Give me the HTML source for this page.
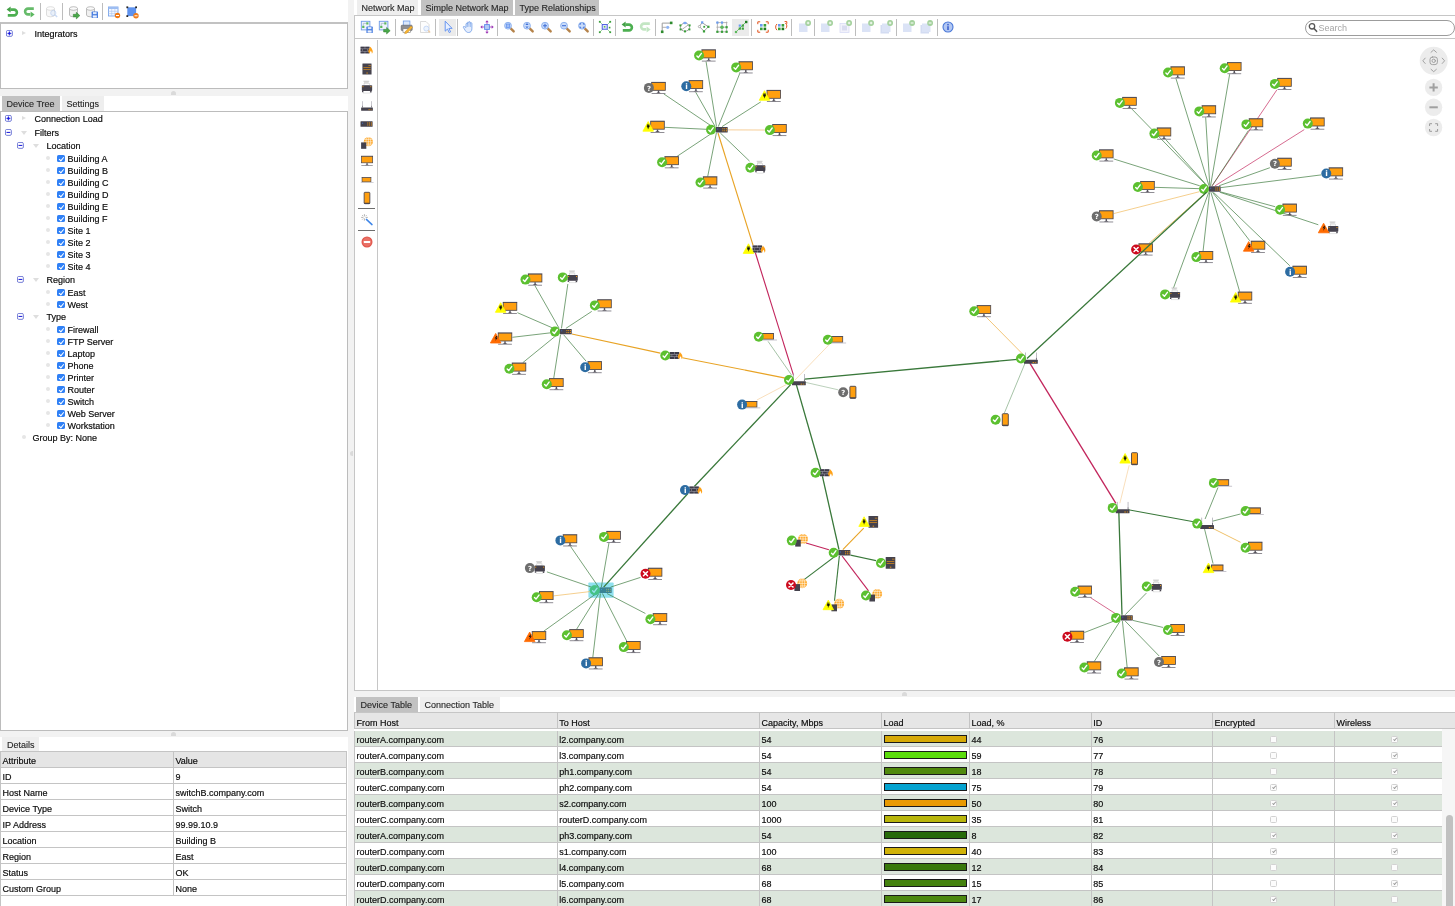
<!DOCTYPE html>
<html lang="en"><head><meta charset="utf-8"><title>Network Map</title>
<style>
html,body{margin:0;padding:0}
body{width:1455px;height:906px;position:relative;overflow:hidden;background:#fff;
 font-family:"Liberation Sans",sans-serif;font-size:9px;color:#0c0c0c;-webkit-text-stroke:0.18px #0c0c0c}
#w{position:absolute;left:0;top:0;width:1455px;height:906px;overflow:hidden;will-change:transform}
.a{position:absolute}
.t{position:absolute;white-space:nowrap;height:12px;line-height:12px}
.box{position:absolute;border:1px solid #bcbcbc;background:#fff;box-sizing:border-box}
.tab{position:absolute;box-sizing:border-box;height:15px;line-height:16px;padding-left:4.6px;white-space:nowrap;overflow:hidden;color:#262626;-webkit-text-stroke:0.12px #262626}
.tab.d{background:#c2c2c2}
.tab.l{background:#eeeeee}
.split{position:absolute;background:#f2f2f2}
.knob{position:absolute;width:5px;height:4px;border-radius:3px 3px 0 0;background:#dadada}
.sep{position:absolute;width:1px;background:#bdbdbd}
.ic{position:absolute;width:16px;height:16px;overflow:visible}
.hl{position:absolute;background:#ebebeb}
.tri{position:absolute;width:0;height:0}
.tri.r{border-left:4.2px solid #dedede;border-top:2.8px solid transparent;border-bottom:2.8px solid transparent}
.tri.dn{border-top:4px solid #dedede;border-left:3px solid transparent;border-right:3px solid transparent}
.dot{position:absolute;width:3.4px;height:3.4px;border-radius:2px;background:#e6e6e6}
.cb{position:absolute;width:7.6px;height:7.2px;border-radius:1.6px;background:#2f80f6;box-sizing:border-box}
.cb:after{content:"";position:absolute;left:2.6px;top:0.7px;width:1.9px;height:3.8px;border:solid #fff;border-width:0 1.1px 1.1px 0;transform:rotate(40deg)}
.hd{position:absolute;background:#e6e6e6;box-sizing:border-box;border-top:1px solid #c6c6c6;border-bottom:1px solid #c4c4c4}
.ln{position:absolute;background:#c4c4c4}
.row{position:absolute;left:354px;width:1087.5px}
.row.g{background:#dce6dc}
.bar{position:absolute;height:6px;border:1px solid #1a1a1a;box-sizing:content-box}
.ck{position:absolute;width:7px;height:7px;border:1px solid #d2d2d2;border-radius:1.5px;background:#fcfcfc;box-sizing:border-box}
.ck.on:after{content:"";position:absolute;left:1.8px;top:0px;width:1.4px;height:3.4px;border:solid #9a9a9a;border-width:0 0.9px 0.9px 0;transform:rotate(40deg)}
</style></head>
<body><div id="w">
<svg class="ic" style="left:2.7px;top:3.5px" viewBox="0 0 16 16"><path d="M7.4 5.6H11a2.9 2.9 0 0 1 0 5.8H4.8" fill="none" stroke="#4caf50" stroke-width="2.6"/><path d="M3.6 5.6l4-3v6z" fill="#43a047"/></svg>
<svg class="ic" style="left:21.3px;top:3.5px" viewBox="0 0 16 16"><path d="M12.8 4.6H7a2.9 2.9 0 0 0 0 5.8H9.4" fill="none" stroke="#66bb6a" stroke-width="2.6"/><path d="M13.6 10.4l-4-3v6z" fill="#5cb860"/></svg>
<svg class="ic" style="left:44px;top:3.5px" viewBox="0 0 16 16"><g opacity="0.5"><path d="M2.5 4.5v6.5a4 1.8 0 0 0 8 0v-6.5" fill="#f1f1f1" stroke="#a3a3a3" stroke-width="0.7"/><ellipse cx="6.5" cy="4.5" rx="4" ry="1.8" fill="#fafafa" stroke="#a3a3a3" stroke-width="0.7"/></g><g opacity="0.45"><circle cx="9.3" cy="9" r="2.6" fill="#d7e6fb" stroke="#8aaee8" stroke-width="0.9"/><path d="M11.2 11l2 2" stroke="#8aaee8" stroke-width="1.4"/></g></svg>
<svg class="ic" style="left:66.5px;top:3.5px" viewBox="0 0 16 16"><g opacity="1"><path d="M2.5 4.5v6.5a4 1.8 0 0 0 8 0v-6.5" fill="#f1f1f1" stroke="#a3a3a3" stroke-width="0.7"/><ellipse cx="6.5" cy="4.5" rx="4" ry="1.8" fill="#fafafa" stroke="#a3a3a3" stroke-width="0.7"/></g><path d="M6.3 10.3h3v-2l3.6 3.3l-3.6 3.3v-2h-3z" fill="#4aa84a" stroke="#2e7d2e" stroke-width="0.5"/></svg>
<svg class="ic" style="left:84px;top:3.5px" viewBox="0 0 16 16"><g opacity="1"><path d="M2.5 4.5v6.5a4 1.8 0 0 0 8 0v-6.5" fill="#f1f1f1" stroke="#a3a3a3" stroke-width="0.7"/><ellipse cx="6.5" cy="4.5" rx="4" ry="1.8" fill="#fafafa" stroke="#a3a3a3" stroke-width="0.7"/></g><rect x="7.6" y="7.6" width="6.4" height="6.4" rx="0.6" fill="#4a7fe0"/><rect x="9.0" y="8.1" width="3.6" height="2" fill="#dfe9fb"/><rect x="8.799999999999999" y="11.399999999999999" width="4" height="2.2" fill="#eef3fd"/></svg>
<svg class="ic" style="left:106px;top:3.5px" viewBox="0 0 16 16"><rect x="2.5" y="3" width="9.5" height="9" fill="#f4f8ff" stroke="#7aa4ea" stroke-width="0.9"/><rect x="2.5" y="3" width="9.5" height="2" fill="#9dbdf2"/><path d="M2.5 7.3h9.5M2.5 9.6h9.5M5.7 5v7M8.9 5v7" stroke="#a9c4f0" stroke-width="0.6"/><circle cx="11.5" cy="11.5" r="2.7" fill="#f07a18"/><rect x="10.0" y="11.0" width="3" height="1" fill="#fff"/></svg>
<svg class="ic" style="left:124px;top:3.5px" viewBox="0 0 16 16"><rect x="3.3" y="3.3" width="8.8" height="8.8" fill="#5e92ee"/><rect x="2.4" y="2.4" width="1.8" height="1.8" fill="#222"/><rect x="11.2" y="2.4" width="1.8" height="1.8" fill="#222"/><rect x="2.4" y="11.2" width="1.8" height="1.8" fill="#222"/><circle cx="12" cy="11.8" r="2.7" fill="#f07a18"/><rect x="10.5" y="11.3" width="3" height="1" fill="#fff"/></svg>
<div class="sep" style="left:40px;top:3px;height:17px"></div>
<div class="sep" style="left:62px;top:3px;height:17px"></div>
<div class="sep" style="left:102px;top:3px;height:17px"></div>
<div class="box" style="left:0;top:22px;width:347.5px;height:67px;border-top-width:2px;border-top-color:#c2c2c2"></div>
<svg class="a" style="left:6.1px;top:30.1px" width="6.8" height="6.8" viewBox="0 0 6.8 6.8"><rect x="0.45" y="0.45" width="5.9" height="5.9" rx="1.3" fill="#fff" stroke="#6670d2" stroke-width="0.9"/><path d="M3.4 1.3l0.6 1.5l1.5 0.6l-1.5 0.6l-0.6 1.5l-0.6-1.5l-1.5-0.6l1.5-0.6z" fill="#1414e0" stroke="#1414e0" stroke-width="0.3"/></svg><div class="tri r" style="left:22.3px;top:30.7px"></div>
<div class="t" style="left:34.5px;top:28px">Integrators</div>
<div class="split" style="left:0;top:89px;width:348px;height:7px"></div><div class="knob" style="left:171px;top:90.5px"></div>
<div class="tab d" style="left:2px;top:96px;width:58px">Device Tree</div>
<div class="tab l" style="left:62px;top:96px;width:42px">Settings</div>
<div class="box" style="left:0;top:111px;width:347.5px;height:620px"></div>
<svg class="a" style="left:4.9px;top:115.2px" width="6.8" height="6.8" viewBox="0 0 6.8 6.8"><rect x="0.45" y="0.45" width="5.9" height="5.9" rx="1.3" fill="#fff" stroke="#6670d2" stroke-width="0.9"/><path d="M3.4 1.3l0.6 1.5l1.5 0.6l-1.5 0.6l-0.6 1.5l-0.6-1.5l-1.5-0.6l1.5-0.6z" fill="#1414e0" stroke="#1414e0" stroke-width="0.3"/></svg><div class="tri r" style="left:22.3px;top:115.8px"></div><div class="t" style="left:34.6px;top:113px">Connection Load</div>
<svg class="a" style="left:4.9px;top:129.2px" width="6.8" height="6.8" viewBox="0 0 6.8 6.8"><rect x="0.45" y="0.45" width="5.9" height="5.9" rx="1.3" fill="#fff" stroke="#6670d2" stroke-width="0.9"/><rect x="1.5" y="2.9" width="3.8" height="1" fill="#1414d8"/></svg><div class="tri dn" style="left:20.9px;top:130.8px"></div><div class="t" style="left:34.6px;top:127px">Filters</div>
<svg class="a" style="left:17.1px;top:142.2px" width="6.8" height="6.8" viewBox="0 0 6.8 6.8"><rect x="0.45" y="0.45" width="5.9" height="5.9" rx="1.3" fill="#fff" stroke="#6670d2" stroke-width="0.9"/><rect x="1.5" y="2.9" width="3.8" height="1" fill="#1414d8"/></svg><div class="tri dn" style="left:33.1px;top:143.8px"></div><div class="t" style="left:46.6px;top:140px">Location</div>
<div class="dot" style="left:46.4px;top:156.4px"></div><div class="cb" style="left:57px;top:154.9px"></div><div class="t" style="left:67.4px;top:153px">Building A</div>
<div class="dot" style="left:46.4px;top:168.4px"></div><div class="cb" style="left:57px;top:166.9px"></div><div class="t" style="left:67.4px;top:165px">Building B</div>
<div class="dot" style="left:46.4px;top:180.4px"></div><div class="cb" style="left:57px;top:178.9px"></div><div class="t" style="left:67.4px;top:177px">Building C</div>
<div class="dot" style="left:46.4px;top:192.4px"></div><div class="cb" style="left:57px;top:190.9px"></div><div class="t" style="left:67.4px;top:189px">Building D</div>
<div class="dot" style="left:46.4px;top:204.4px"></div><div class="cb" style="left:57px;top:202.9px"></div><div class="t" style="left:67.4px;top:201px">Building E</div>
<div class="dot" style="left:46.4px;top:216.4px"></div><div class="cb" style="left:57px;top:214.9px"></div><div class="t" style="left:67.4px;top:213px">Building F</div>
<div class="dot" style="left:46.4px;top:228.4px"></div><div class="cb" style="left:57px;top:226.9px"></div><div class="t" style="left:67.4px;top:225px">Site 1</div>
<div class="dot" style="left:46.4px;top:240.4px"></div><div class="cb" style="left:57px;top:238.9px"></div><div class="t" style="left:67.4px;top:237px">Site 2</div>
<div class="dot" style="left:46.4px;top:252.4px"></div><div class="cb" style="left:57px;top:250.9px"></div><div class="t" style="left:67.4px;top:249px">Site 3</div>
<div class="dot" style="left:46.4px;top:264.4px"></div><div class="cb" style="left:57px;top:262.9px"></div><div class="t" style="left:67.4px;top:261px">Site 4</div>
<svg class="a" style="left:17.1px;top:276.2px" width="6.8" height="6.8" viewBox="0 0 6.8 6.8"><rect x="0.45" y="0.45" width="5.9" height="5.9" rx="1.3" fill="#fff" stroke="#6670d2" stroke-width="0.9"/><rect x="1.5" y="2.9" width="3.8" height="1" fill="#1414d8"/></svg><div class="tri dn" style="left:33.1px;top:277.8px"></div><div class="t" style="left:46.6px;top:274px">Region</div>
<div class="dot" style="left:46.4px;top:290.4px"></div><div class="cb" style="left:57px;top:288.9px"></div><div class="t" style="left:67.4px;top:287px">East</div>
<div class="dot" style="left:46.4px;top:302.4px"></div><div class="cb" style="left:57px;top:300.9px"></div><div class="t" style="left:67.4px;top:299px">West</div>
<svg class="a" style="left:17.1px;top:313.2px" width="6.8" height="6.8" viewBox="0 0 6.8 6.8"><rect x="0.45" y="0.45" width="5.9" height="5.9" rx="1.3" fill="#fff" stroke="#6670d2" stroke-width="0.9"/><rect x="1.5" y="2.9" width="3.8" height="1" fill="#1414d8"/></svg><div class="tri dn" style="left:33.1px;top:314.8px"></div><div class="t" style="left:46.6px;top:311px">Type</div>
<div class="dot" style="left:46.4px;top:327.4px"></div><div class="cb" style="left:57px;top:325.9px"></div><div class="t" style="left:67.4px;top:324px">Firewall</div>
<div class="dot" style="left:46.4px;top:339.4px"></div><div class="cb" style="left:57px;top:337.9px"></div><div class="t" style="left:67.4px;top:336px">FTP Server</div>
<div class="dot" style="left:46.4px;top:351.4px"></div><div class="cb" style="left:57px;top:349.9px"></div><div class="t" style="left:67.4px;top:348px">Laptop</div>
<div class="dot" style="left:46.4px;top:363.4px"></div><div class="cb" style="left:57px;top:361.9px"></div><div class="t" style="left:67.4px;top:360px">Phone</div>
<div class="dot" style="left:46.4px;top:375.4px"></div><div class="cb" style="left:57px;top:373.9px"></div><div class="t" style="left:67.4px;top:372px">Printer</div>
<div class="dot" style="left:46.4px;top:387.4px"></div><div class="cb" style="left:57px;top:385.9px"></div><div class="t" style="left:67.4px;top:384px">Router</div>
<div class="dot" style="left:46.4px;top:399.4px"></div><div class="cb" style="left:57px;top:397.9px"></div><div class="t" style="left:67.4px;top:396px">Switch</div>
<div class="dot" style="left:46.4px;top:411.4px"></div><div class="cb" style="left:57px;top:409.9px"></div><div class="t" style="left:67.4px;top:408px">Web Server</div>
<div class="dot" style="left:46.4px;top:423.4px"></div><div class="cb" style="left:57px;top:421.9px"></div><div class="t" style="left:67.4px;top:420px">Workstation</div>
<div class="dot" style="left:22.4px;top:435.4px"></div><div class="t" style="left:32.5px;top:432px">Group By: None</div>
<div class="split" style="left:0;top:731px;width:348px;height:6px"></div><div class="knob" style="left:171px;top:732px"></div>
<div class="tab l" style="left:2px;top:737px;width:37px;padding-left:5px">Details</div>
<div class="a" style="left:0;top:751.5px;width:347px;height:15.5px;background:#e5e5e5"></div>
<div class="ln" style="left:0;top:750.8px;width:347px;height:1px"></div>
<div class="ln" style="left:0;top:766.8px;width:347px;height:1px"></div>
<div class="ln" style="left:0;top:782.8px;width:347px;height:1px"></div>
<div class="ln" style="left:0;top:798.8px;width:347px;height:1px"></div>
<div class="ln" style="left:0;top:814.8px;width:347px;height:1px"></div>
<div class="ln" style="left:0;top:830.8px;width:347px;height:1px"></div>
<div class="ln" style="left:0;top:846.8px;width:347px;height:1px"></div>
<div class="ln" style="left:0;top:862.8px;width:347px;height:1px"></div>
<div class="ln" style="left:0;top:878.8px;width:347px;height:1px"></div>
<div class="ln" style="left:0;top:894.8px;width:347px;height:1px"></div>
<div class="ln" style="left:0;top:750.8px;width:1px;height:156px"></div>
<div class="ln" style="left:172.8px;top:750.8px;width:1px;height:145px"></div>
<div class="ln" style="left:346.2px;top:750.8px;width:1px;height:156px"></div>
<div class="t" style="left:2.6px;top:755px">Attribute</div><div class="t" style="left:175.4px;top:755px">Value</div>
<div class="t" style="left:2.6px;top:771px">ID</div><div class="t" style="left:175.4px;top:771px">9</div>
<div class="t" style="left:2.6px;top:787px">Host Name</div><div class="t" style="left:175.4px;top:787px">switchB.company.com</div>
<div class="t" style="left:2.6px;top:803px">Device Type</div><div class="t" style="left:175.4px;top:803px">Switch</div>
<div class="t" style="left:2.6px;top:819px">IP Address</div><div class="t" style="left:175.4px;top:819px">99.99.10.9</div>
<div class="t" style="left:2.6px;top:835px">Location</div><div class="t" style="left:175.4px;top:835px">Building B</div>
<div class="t" style="left:2.6px;top:851px">Region</div><div class="t" style="left:175.4px;top:851px">East</div>
<div class="t" style="left:2.6px;top:867px">Status</div><div class="t" style="left:175.4px;top:867px">OK</div>
<div class="t" style="left:2.6px;top:883px">Custom Group</div><div class="t" style="left:175.4px;top:883px">None</div>
<div class="split" style="left:348px;top:0;width:6px;height:906px"></div>
<div class="a" style="left:349.5px;top:451px;width:3px;height:5px;border-radius:3px 0 0 3px;background:#dadada"></div>
<div class="tab l" style="left:357px;top:0;width:60.5px">Network Map</div>
<div class="tab d" style="left:421px;top:0;width:91.5px">Simple Network Map</div>
<div class="tab d" style="left:515px;top:0;width:84px">Type Relationships</div>
<div class="a" style="left:354px;top:15px;width:1101px;height:1px;background:#c6c6c6"></div>
<div class="a" style="left:354px;top:38px;width:1101px;height:1px;background:#c6c6c6"></div>
<div class="a" style="left:354px;top:15px;width:1px;height:676px;background:#c6c6c6"></div>
<div class="a" style="left:377px;top:40px;width:1px;height:650px;background:#c6c6c6"></div>
<div class="a" style="left:354px;top:690px;width:1101px;height:1px;background:#c6c6c6"></div>
<div class="hl" style="left:439px;top:19px;width:17px;height:17px"></div>
<div class="hl" style="left:732px;top:19px;width:17px;height:17px"></div>
<svg class="ic" style="left:359px;top:18.8px" viewBox="0 0 16 16"><rect x="2.3" y="2.3" width="8.6" height="8.6" fill="#eef3fd" stroke="#6f9ce6" stroke-width="0.9"/><rect x="3.2" y="6.8" width="2.2" height="2.2" fill="#5cb85c"/><rect x="7.2" y="3.3" width="2.2" height="2.2" fill="#5cb85c"/><path d="M4.3 6.8v-2.4h2.9" stroke="#9ab" stroke-width="0.6" fill="none"/><rect x="7.4" y="7.6" width="6.4" height="6.4" rx="0.6" fill="#4a7fe0"/><rect x="8.8" y="8.1" width="3.6" height="2" fill="#dfe9fb"/><rect x="8.6" y="11.399999999999999" width="4" height="2.2" fill="#eef3fd"/></svg>
<svg class="ic" style="left:377px;top:18.8px" viewBox="0 0 16 16"><rect x="2.3" y="2.3" width="8.6" height="8.6" fill="#eef3fd" stroke="#6f9ce6" stroke-width="0.9"/><rect x="3.2" y="6.8" width="2.2" height="2.2" fill="#5cb85c"/><rect x="7.2" y="3.3" width="2.2" height="2.2" fill="#5cb85c"/><path d="M4.3 6.8v-2.4h2.9" stroke="#9ab" stroke-width="0.6" fill="none"/><path d="M6.6 10.4h3v-2l3.6 3.3l-3.6 3.3v-2h-3z" fill="#4aa84a" stroke="#2e7d2e" stroke-width="0.5"/></svg>
<div class="sep" style="left:395.0px;top:19px;height:17px"></div>
<svg class="ic" style="left:399px;top:18.8px" viewBox="0 0 16 16"><rect x="4.3" y="2" width="6.6" height="5" fill="#dbe8fd" stroke="#6f9ce6" stroke-width="0.8"/><rect x="2.2" y="6.2" width="11" height="5.4" rx="0.8" fill="#8e8e92" stroke="#5e5e62" stroke-width="0.6"/><rect x="4" y="9.8" width="7.4" height="3.6" fill="#fff" stroke="#777" stroke-width="0.6"/><path d="M6.2 12.6l5.8-5.6l1.6 1.6l-5.8 5.6l-2.2 0.6z" fill="#f5b335" stroke="#c98a1a" stroke-width="0.4"/></svg>
<svg class="ic" style="left:417px;top:18.8px" viewBox="0 0 16 16"><g opacity="0.45"><path d="M3.5 2.5h5.5l3 3v8h-8.5z" fill="#fafafa" stroke="#9a9a9a" stroke-width="0.8"/><circle cx="9.3" cy="9.6" r="2.5" fill="#d7e6fb" stroke="#7aa4ea" stroke-width="0.9"/><path d="M11.2 11.6l1.9 1.9" stroke="#d08a3a" stroke-width="1.4"/></g></svg>
<div class="sep" style="left:435.0px;top:19px;height:17px"></div>
<svg class="ic" style="left:439.5px;top:18.8px" viewBox="0 0 16 16"><path d="M5.2 2.2v10l2.3-2.2l1.7 3.6l1.4-0.7l-1.7-3.5h3.2z" fill="#e8f0ff" stroke="#5b8def" stroke-width="0.9" stroke-linejoin="round"/></svg>
<div class="sep" style="left:457.0px;top:19px;height:17px"></div>
<svg class="ic" style="left:461px;top:18.8px" viewBox="0 0 16 16"><path d="M5 8.5v-3.4c0-1 1.4-1 1.4 0v-1.4c0-1 1.5-1 1.5 0v-0.3c0-1 1.5-1 1.5 0.1v0.8c0-0.9 1.5-0.9 1.5 0.2v5.2c0 2.3-1.2 3.8-3.4 3.8c-1.8 0-2.6-0.9-3.5-2.4l-1.6-2.6c-0.5-0.9 0.7-1.6 1.4-0.7z" fill="#e4edfd" stroke="#6f9ce6" stroke-width="0.8" stroke-linejoin="round"/><path d="M6.4 5v3M7.9 3.8v4M9.4 4.2v3.8" stroke="#6f9ce6" stroke-width="0.6"/></svg>
<svg class="ic" style="left:478.75px;top:18.8px" viewBox="0 0 16 16"><rect x="5.6" y="5.6" width="4.8" height="4.8" fill="#b3cbf6" stroke="#5b8def" stroke-width="0.9"/><g fill="#9c34b4"><path d="M8 1.3l1.7 2h-3.4zM8 14.7l1.7-2h-3.4zM1.3 8l2-1.7v3.4zM14.7 8l-2-1.7v3.4z"/><rect x="7.6" y="3" width="0.8" height="2.4"/><rect x="7.6" y="10.6" width="0.8" height="2.4"/><rect x="3" y="7.6" width="2.4" height="0.8"/><rect x="10.6" y="7.6" width="2.4" height="0.8"/></g></svg>
<div class="sep" style="left:497.0px;top:19px;height:17px"></div>
<svg class="ic" style="left:500.75px;top:18.8px" viewBox="0 0 16 16"><path d="M9.4 9.2l3.3 3.2" stroke="#b5834a" stroke-width="2.4" stroke-linecap="round"/><circle cx="7" cy="6.7" r="3.4" fill="#c9dcfa" stroke="#8fb2ee" stroke-width="1"/><g transform="translate(1 0.7)"><rect x="4.3" y="4.3" width="3.4" height="3.4" fill="#9fbdf3" stroke="#5b8def" stroke-width="0.7"/></g></svg>
<svg class="ic" style="left:520px;top:18.8px" viewBox="0 0 16 16"><path d="M9.4 9.2l3.3 3.2" stroke="#b5834a" stroke-width="2.4" stroke-linecap="round"/><circle cx="7" cy="6.7" r="3.4" fill="#c9dcfa" stroke="#8fb2ee" stroke-width="1"/><g transform="translate(1 0.7)"><path d="M6 3.4l1.6 1.8h-3.2zM6 8.6l1.6-1.8h-3.2z" fill="#3f6fd8"/></g></svg>
<svg class="ic" style="left:538px;top:18.8px" viewBox="0 0 16 16"><path d="M9.4 9.2l3.3 3.2" stroke="#b5834a" stroke-width="2.4" stroke-linecap="round"/><circle cx="7" cy="6.7" r="3.4" fill="#c9dcfa" stroke="#8fb2ee" stroke-width="1"/><g transform="translate(1 0.7)"><path d="M4 6h4M6 4v4" stroke="#3f6fd8" stroke-width="1.1"/></g></svg>
<svg class="ic" style="left:556.5px;top:18.8px" viewBox="0 0 16 16"><path d="M9.4 9.2l3.3 3.2" stroke="#b5834a" stroke-width="2.4" stroke-linecap="round"/><circle cx="7" cy="6.7" r="3.4" fill="#c9dcfa" stroke="#8fb2ee" stroke-width="1"/><g transform="translate(1 0.7)"><path d="M4 6h4" stroke="#3f6fd8" stroke-width="1.1"/></g></svg>
<svg class="ic" style="left:575px;top:18.8px" viewBox="0 0 16 16"><path d="M9.4 9.2l3.3 3.2" stroke="#b5834a" stroke-width="2.4" stroke-linecap="round"/><circle cx="7" cy="6.7" r="3.4" fill="#c9dcfa" stroke="#8fb2ee" stroke-width="1"/><g transform="translate(1 0.7)"><path d="M4 5.2v-1.2h1.2M6.8 4h1.2v1.2M8 6.8v1.2h-1.2M5.2 8h-1.2v-1.2" stroke="#3f6fd8" stroke-width="0.9" fill="none"/></g></svg>
<div class="sep" style="left:592.5px;top:19px;height:17px"></div>
<svg class="ic" style="left:597px;top:18.8px" viewBox="0 0 16 16"><path d="M2.8 2.8l10.4 10.4M13.2 2.8l-10.4 10.4" stroke="#5cb85c" stroke-width="0.6"/><rect x="5.2" y="5.6" width="5" height="4.6" fill="#e6ecff" stroke="#3b4fe0" stroke-width="0.9"/><rect x="1.9" y="1.9" width="1.8" height="1.8" fill="#3aa03a"/><rect x="12.299999999999999" y="1.9" width="1.8" height="1.8" fill="#3aa03a"/><rect x="1.9" y="12.299999999999999" width="1.8" height="1.8" fill="#3aa03a"/><rect x="12.299999999999999" y="12.299999999999999" width="1.8" height="1.8" fill="#3aa03a"/><rect x="11.799999999999999" y="7.8" width="1.6" height="1.6" fill="#3aa03a"/><rect x="6.8" y="7.0" width="1.6" height="1.6" fill="#5cb85c"/></svg>
<div class="sep" style="left:615.0px;top:19px;height:17px"></div>
<svg class="ic" style="left:618px;top:18.8px" viewBox="0 0 16 16"><path d="M7.4 5.6H11a2.9 2.9 0 0 1 0 5.8H4.8" fill="none" stroke="#4caf50" stroke-width="2.6"/><path d="M3.6 5.6l4-3v6z" fill="#43a047"/></svg>
<svg class="ic" style="left:637px;top:18.8px" viewBox="0 0 16 16"><path d="M12.8 4.6H7a2.9 2.9 0 0 0 0 5.8H9.4" fill="none" stroke="#c3e6c3" stroke-width="2.6"/><path d="M13.6 10.4l-4-3v6z" fill="#c3e6c3"/></svg>
<div class="sep" style="left:655.0px;top:19px;height:17px"></div>
<svg class="ic" style="left:658px;top:18.8px" viewBox="0 0 16 16"><path d="M4.2 12.5v-8.4h9" fill="none" stroke="#9c9c9c" stroke-width="1"/><rect x="11.899999999999999" y="2.5999999999999996" width="2.6" height="2.6" fill="#2e8b2e"/><rect x="2.9000000000000004" y="11.5" width="2.6" height="2.6" fill="#2e8b2e"/><path d="M4.2 8.3h4" stroke="#9c9c9c" stroke-width="0.8"/><circle cx="9.7" cy="8.3" r="1.6" fill="#8fb4f4"/></svg>
<svg class="ic" style="left:677px;top:18.8px" viewBox="0 0 16 16"><ellipse cx="8" cy="8.2" rx="4.6" ry="4" fill="none" stroke="#8a8a8a" stroke-width="0.8"/><path d="M5 10.5l6-4.4" stroke="#8a8a8a" stroke-width="0.7"/><rect x="2.4" y="5.4" width="2" height="2" fill="#3aa03a"/><rect x="11.6" y="5.4" width="2" height="2" fill="#3aa03a"/><rect x="2.6" y="9.4" width="2" height="2" fill="#3aa03a"/><rect x="11.4" y="9.4" width="2" height="2" fill="#3aa03a"/><rect x="7.0" y="11.4" width="2" height="2" fill="#3aa03a"/><ellipse cx="8" cy="4" rx="1.8" ry="1.2" fill="#7aa7f2"/></svg>
<svg class="ic" style="left:696px;top:18.8px" viewBox="0 0 16 16"><path d="M6 3.6l-2.6 4l4.6 4.6l4.4-4.4z" fill="none" stroke="#8a8a8a" stroke-width="0.8"/><rect x="5.1" y="2.3" width="2.2" height="2.2" fill="#6a9cf0"/><rect x="11.3" y="6.699999999999999" width="2.2" height="2.2" fill="#3aa03a"/><rect x="6.9" y="11.3" width="2.2" height="2.2" fill="#3aa03a"/><circle cx="3.4" cy="7.6" r="1.1" fill="#fff" stroke="#8a8a8a" stroke-width="0.6"/><rect x="7.299999999999999" y="6.8999999999999995" width="1.8" height="1.8" fill="#3aa03a"/></svg>
<svg class="ic" style="left:714px;top:18.8px" viewBox="0 0 16 16"><path d="M2.4 3.6h11M2.4 8.2h11M2.4 12.8h11M3.4 2.6v11M8 2.6v11M12.6 2.6v11" stroke="#a5a5a5" stroke-width="0.8"/><rect x="2.3" y="2.5" width="2.2" height="2.2" fill="#6a9cf0"/><rect x="6.9" y="2.5" width="2.2" height="2.2" fill="#6a9cf0"/><rect x="2.3" y="11.700000000000001" width="2.2" height="2.2" fill="#3aa03a"/><rect x="6.9" y="11.700000000000001" width="2.2" height="2.2" fill="#3aa03a"/><rect x="11.5" y="11.700000000000001" width="2.2" height="2.2" fill="#3aa03a"/><rect x="11.5" y="7.1" width="2.2" height="2.2" fill="#3aa03a"/><circle cx="8" cy="8.2" r="1.8" fill="#5cb85c"/></svg>
<svg class="ic" style="left:732.5px;top:18.8px" viewBox="0 0 16 16"><path d="M3 13l10-10" stroke="#5cb85c" stroke-width="0.8"/><rect x="12.0" y="1.8" width="2.4" height="2.4" fill="#1f7a1f"/><rect x="1.9" y="11.9" width="2.2" height="2.2" fill="#5cb85c"/><rect x="5.699999999999999" y="5.5" width="2.2" height="2.2" fill="#6a9cf0"/><rect x="8.700000000000001" y="5.5" width="2.2" height="2.2" fill="#3aa03a"/><rect x="5.699999999999999" y="8.5" width="2.2" height="2.2" fill="#3aa03a"/><rect x="8.700000000000001" y="8.5" width="2.2" height="2.2" fill="#3aa03a"/></svg>
<div class="sep" style="left:751.25px;top:19px;height:17px"></div>
<svg class="ic" style="left:754.5px;top:18.8px" viewBox="0 0 16 16"><path d="M2.8 5.2v-2.4h2.4M10.8 2.8h2.4v2.4M13.2 10.8v2.4h-2.4M5.2 13.2h-2.4v-2.4" fill="none" stroke="#e2521a" stroke-width="1"/><rect x="5.0" y="5.0" width="2.6" height="2.6" fill="#6a9cf0"/><rect x="8.6" y="5.0" width="2.6" height="2.6" fill="#3aa03a"/><rect x="5.0" y="8.6" width="2.6" height="2.6" fill="#3aa03a"/><rect x="8.6" y="8.6" width="2.6" height="2.6" fill="#1f7a1f"/></svg>
<svg class="ic" style="left:772.75px;top:18.8px" viewBox="0 0 16 16"><path d="M4 5c-1.8 1.4-1.8 4.8 0 6.2M12.4 4c1.8 1.3 1.8 4.2 0.4 5.6" fill="none" stroke="#e2521a" stroke-width="1"/><path d="M11.6 2.6h2.2v2.2" fill="none" stroke="#e2521a" stroke-width="1"/><rect x="5.0" y="5.0" width="2.6" height="2.6" fill="#6a9cf0"/><rect x="8.6" y="5.0" width="2.6" height="2.6" fill="#3aa03a"/><rect x="5.0" y="8.6" width="2.6" height="2.6" fill="#3aa03a"/><rect x="8.6" y="8.6" width="2.6" height="2.6" fill="#1f7a1f"/></svg>
<div class="sep" style="left:791.0px;top:19px;height:17px"></div>
<svg class="ic" style="left:795.75px;top:18.8px" viewBox="0 0 16 16"><rect x="3" y="4.5" width="8.5" height="8.5" fill="#dbe3f6"/><circle cx="12.1" cy="4" r="2.9" fill="#a4d19d"/><path d="M10.8 4h2.6M12.1 2.7v2.6" stroke="#fff" stroke-width="0.9"/></svg>
<div class="sep" style="left:814.0px;top:19px;height:17px"></div>
<svg class="ic" style="left:818px;top:18.8px" viewBox="0 0 16 16"><rect x="3" y="4.5" width="8.5" height="8.5" fill="#dbe3f6"/><circle cx="12.1" cy="4" r="2.9" fill="#a4d19d"/><path d="M10.8 4h2.6M12.1 2.7v2.6" stroke="#fff" stroke-width="0.9"/></svg>
<svg class="ic" style="left:837px;top:18.8px" viewBox="0 0 16 16"><rect x="3" y="4.5" width="9" height="9" fill="#f2f2fb" stroke="#d9dcf5" stroke-width="0.8"/><rect x="5" y="6.5" width="5" height="5" fill="#d9dcf0"/><circle cx="12.1" cy="4" r="2.9" fill="#a4d19d"/><path d="M10.8 4h2.6M12.1 2.7v2.6" stroke="#fff" stroke-width="0.9"/></svg>
<div class="sep" style="left:855.0px;top:19px;height:17px"></div>
<svg class="ic" style="left:859px;top:18.8px" viewBox="0 0 16 16"><rect x="3" y="4.5" width="8.5" height="8.5" fill="#dbe3f6"/><circle cx="12.1" cy="4" r="2.9" fill="#a4d19d"/><path d="M10.8 4h2.6M12.1 2.7v2.6" stroke="#fff" stroke-width="0.9"/></svg>
<svg class="ic" style="left:877.5px;top:18.8px" viewBox="0 0 16 16"><rect x="2.5" y="6" width="8.5" height="8.5" fill="#d3dcf2"/><rect x="4" y="4.5" width="8.5" height="8.5" fill="#dbe3f6"/><circle cx="12.1" cy="4" r="2.9" fill="#a4d19d"/><path d="M10.8 4h2.6M12.1 2.7v2.6" stroke="#fff" stroke-width="0.9"/></svg>
<div class="sep" style="left:896.0px;top:19px;height:17px"></div>
<svg class="ic" style="left:899.5px;top:18.8px" viewBox="0 0 16 16"><rect x="3" y="4.5" width="8.5" height="8.5" fill="#dbe3f6"/><circle cx="12.1" cy="4" r="2.9" fill="#a4d19d"/><path d="M10.7 4h2.8" stroke="#fff" stroke-width="1"/></svg>
<svg class="ic" style="left:918px;top:18.8px" viewBox="0 0 16 16"><rect x="2.5" y="6" width="8.5" height="8.5" fill="#d3dcf2"/><rect x="4" y="4.5" width="8.5" height="8.5" fill="#dbe3f6"/><circle cx="12.1" cy="4" r="2.9" fill="#a4d19d"/><path d="M10.7 4h2.8" stroke="#fff" stroke-width="1"/></svg>
<div class="sep" style="left:937.0px;top:19px;height:17px"></div>
<svg class="ic" style="left:939.5px;top:18.8px" viewBox="0 0 16 16"><circle cx="8" cy="8" r="5" fill="#b3c8f3" stroke="#4a78d8" stroke-width="1.1"/><rect x="7.2" y="7.2" width="1.6" height="3.8" fill="#3f63cf"/><rect x="7.2" y="4.9" width="1.6" height="1.5" fill="#3f63cf"/></svg>
<div class="a" style="left:1305px;top:19.5px;width:149.5px;height:16px;border:1px solid #9c9c9c;border-radius:8px;box-sizing:border-box;background:#fff"></div>
<svg class="a" style="left:1308px;top:22px" width="10" height="11" viewBox="0 0 10 11"><circle cx="4" cy="4.3" r="2.7" fill="none" stroke="#555" stroke-width="1.3"/><path d="M6 6.5l2.6 2.8" stroke="#555" stroke-width="1.6" stroke-linecap="round"/></svg>
<div class="t" style="left:1318.6px;top:22px;color:#a6a6a6;-webkit-text-stroke:0">Search</div>
<svg class="ic" style="left:359.1px;top:42.2px" viewBox="0 0 16 16"><g transform="translate(8 8) scale(0.95) translate(-11.149999999999999 0.050000000000000044)"><rect x="4.4" y="-3.5" width="9.4" height="7" fill="#a9a7b3"/><rect x="4.4" y="-3.5" width="4.4" height="2" fill="#3e3c49"/><rect x="9.25" y="-3.5" width="4.55" height="2" fill="#3e3c49"/><rect x="4.4" y="-1" width="2" height="2" fill="#3e3c49"/><rect x="6.85" y="-1" width="4.4" height="2" fill="#3e3c49"/><rect x="11.7" y="-1" width="2.1" height="2" fill="#3e3c49"/><rect x="4.4" y="1.5" width="4.4" height="2" fill="#3e3c49"/><rect x="9.25" y="1.5" width="4.2" height="2" fill="#3e3c49"/><path d="M14.6 -3.5c0.7 1 2.8 2.9 2.6 5.2c-0.1 1-0.7 1.8-1 2c0.2-1.2-0.4-2.3-1.2-3c-0.1 1-1 1.8-1 3c-0.8-0.5-1.5-1.4-1.5-2.6c0-1.9 1.9-2.9 2.1-4.6z" fill="#ffa218"/></g></svg>
<svg class="ic" style="left:359.1px;top:60.8px" viewBox="0 0 16 16"><g transform="translate(8 8) scale(0.95) translate(-9.5 0.10000000000000009)"><rect x="4.7" y="-6" width="9.6" height="11.8" rx="0.4" fill="#45424d"/><rect x="11" y="-4.2" width="2.6" height="0.6" fill="#ff9f0f"/><rect x="5.7" y="-1.9" width="7.6" height="0.6" fill="#ff9f0f"/><rect x="5.7" y="0.3" width="7.6" height="0.6" fill="#ff9f0f"/><rect x="8.9" y="3.7" width="1.4" height="0.9" fill="#ff9f0f"/></g></svg>
<svg class="ic" style="left:359.1px;top:79px" viewBox="0 0 16 16"><g transform="translate(8 8) scale(1.0) translate(-9.85 0.6499999999999999)"><path d="M6.3 -6.4h5.8M6.9 -5.4h4.6" stroke="#aaa" stroke-width="0.6"/><rect x="6.9" y="-4.3" width="5.2" height="2" fill="#fff" stroke="#c4c4c4" stroke-width="0.5"/><rect x="6.4" y="2.8" width="6.6" height="2.6" fill="#fff" stroke="#c9c9c9" stroke-width="0.5"/><rect x="4.7" y="-2.5" width="10.3" height="5.8" rx="0.7" fill="#45424d"/><rect x="4.9" y="3.2" width="1.2" height="1.4" fill="#45424d"/><rect x="13" y="3.2" width="1.4" height="1.6" fill="#45424d"/><rect x="5.3" y="-1.4" width="1" height="0.9" fill="#ff9f0f"/><rect x="13.2" y="-1.4" width="1" height="0.9" fill="#ff9f0f"/></g></svg>
<svg class="ic" style="left:359.1px;top:98.2px" viewBox="0 0 16 16"><g transform="translate(8 8) scale(0.85) translate(-9.9 0.3500000000000001)"><rect x="3" y="1.3" width="13.8" height="4" rx="0.5" fill="#45424d"/><rect x="4.2" y="-6" width="0.7" height="5.6" fill="#a3a1ab"/><rect x="4.15" y="-0.6" width="0.8" height="2" fill="#5a5762"/><rect x="15" y="-6" width="0.7" height="5.6" fill="#a3a1ab"/><rect x="14.95" y="-0.6" width="0.8" height="2" fill="#5a5762"/><rect x="11.6" y="3.7" width="1.6" height="0.8" fill="#ff9f0f"/><rect x="14.2" y="3.7" width="1" height="0.8" fill="#ff9f0f"/></g></svg>
<svg class="ic" style="left:359.1px;top:116.1px" viewBox="0 0 16 16"><g transform="translate(8 8) scale(1.0) translate(-11.1 -0.0)"><rect x="4.6" y="-2.7" width="12.1" height="5.4" rx="0.5" fill="#45424d"/><rect x="11.4" y="-1.5" width="1" height="1" fill="#ff9f0f"/><rect x="11.4" y="0.5" width="1" height="1" fill="#ff9f0f"/><rect x="13.2" y="-1.5" width="1" height="1" fill="#ff9f0f"/><rect x="13.2" y="0.5" width="1" height="1" fill="#ff9f0f"/><rect x="15" y="-1.5" width="1" height="1" fill="#ff9f0f"/><rect x="15" y="0.5" width="1" height="1" fill="#ff9f0f"/><rect x="6.2" y="-1.3" width="1" height="1" fill="#3f6fd0"/></g></svg>
<svg class="ic" style="left:359.1px;top:134.8px" viewBox="0 0 16 16"><g transform="translate(8 8) scale(0.93) translate(-9.75 0.25)"><circle cx="11.2" cy="-1.6" r="4.9" fill="#ffa726"/><g stroke="#fff" stroke-width="0.55" fill="none"><path d="M6.4 -1.6h9.6M7.1 -4.1h8.2M7.1 0.9h8.2M11.2 -6.4v9.6"/><ellipse cx="11.2" cy="-1.6" rx="2.5" ry="4.8"/></g><rect x="3.4" y="-0.9" width="5.6" height="6.9" fill="#45424d"/></g></svg>
<svg class="ic" style="left:359.1px;top:153px" viewBox="0 0 16 16"><g transform="translate(8 8) scale(0.83) translate(-9.55 -0.20000000000000018)"><rect x="2.8" y="-5.5" width="13.6" height="7.9" fill="#ff9f0f" stroke="#45424d" stroke-width="0.8"/><rect x="2.4" y="-6" width="14.4" height="0.5" fill="#45424d"/><path d="M8.9 2.7h1.4v1.6l1.8 1h-5l1.8-1z" fill="#55525c"/><rect x="2.7" y="5.2" width="13.8" height="0.75" fill="#6a6771"/></g></svg>
<svg class="ic" style="left:359.1px;top:171.9px" viewBox="0 0 16 16"><g transform="translate(8 8) scale(0.78) translate(-9.75 -0.10000000000000009)"><rect x="3.4" y="-3.1" width="11.4" height="5.6" fill="#ff9f0f" stroke="#45424d" stroke-width="0.8"/><rect x="3" y="-3.5" width="12.2" height="0.5" fill="#45424d"/><rect x="1.8" y="2.9" width="16.4" height="0.8" fill="#b9b7c0"/></g></svg>
<svg class="ic" style="left:359.1px;top:190px" viewBox="0 0 16 16"><g transform="translate(8 8) scale(0.95) translate(-9.7 -0.0)"><rect x="6.7" y="-6" width="6" height="12" rx="0.8" fill="#ff9f0f" stroke="#45424d" stroke-width="0.9"/><rect x="6.7" y="5" width="6" height="1.1" fill="#45424d"/></g></svg>
<div class="a" style="left:358px;top:208px;width:17px;height:1px;background:#6e6e6e"></div>
<svg class="ic" style="left:359px;top:211.3px" viewBox="0 0 16 16"><path d="M7.4 8.4l5.6 5.2" stroke="#3f86e8" stroke-width="1.5" stroke-linecap="round"/><path d="M5.4 3.2v2.2M5.4 7.4v2.2M2.2 6.4h2.2M6.6 6.4h2.2M3.2 4.2l1 1M7.6 4.2l-1 1M3.2 8.6l1-1" stroke="#7c7c7c" stroke-width="0.6"/></svg>
<div class="a" style="left:358px;top:230px;width:17px;height:1px;background:#6e6e6e"></div>
<svg class="ic" style="left:359px;top:233.8px" viewBox="0 0 16 16"><circle cx="8" cy="8" r="5.5" fill="#e2574c"/><circle cx="8" cy="8" r="4.4" fill="#ec7c72" opacity="0.7"/><rect x="4.8" y="7" width="6.4" height="2" rx="0.4" fill="#fff"/></svg>
<div class="a" style="left:378px;top:39px;width:1077px;height:651px;overflow:hidden"><svg id="map" style="-webkit-text-stroke:0" viewBox="378 39 1077 651" width="1077" height="651" font-family="Liberation Sans, sans-serif">
<rect x="588.4" y="582.4" width="25.2" height="15.4" rx="0.8" fill="#8fe1ef" style="filter:blur(0.5px)"/>
<g fill="none" stroke-linecap="butt">
<path d="M716.49 126.6L706.06 61.5" stroke="#39783a" stroke-width="0.68"/>
<path d="M718.29 126.6L739.78 73.4" stroke="#39783a" stroke-width="0.68"/>
<path d="M712.26 126.6L663.79 93.9" stroke="#39783a" stroke-width="0.68"/>
<path d="M715.19 126.6L695.7 92.2" stroke="#39783a" stroke-width="0.68"/>
<path d="M722.02 126.6L760.78 101.9" stroke="#39783a" stroke-width="0.68"/>
<path d="M706.2 129.29L664.9 127.32" stroke="#39783a" stroke-width="0.68"/>
<path d="M727.8 129.86L764.9 130.04" stroke="#f4c585" stroke-width="0.85"/>
<path d="M712.19 133L677.13 156.3" stroke="#39783a" stroke-width="0.68"/>
<path d="M716.36 133L707.7 176.5" stroke="#39783a" stroke-width="0.68"/>
<path d="M720.33 133L749.54 161.1" stroke="#39783a" stroke-width="0.68"/>
<path d="M718 133L753.11 245.5" stroke="#e8a325" stroke-width="1.1"/>
<path d="M755.29 252.5L793.57 375.4" stroke="#c2255c" stroke-width="1.1"/>
<path d="M559.18 328.4L534.9 285.6" stroke="#39783a" stroke-width="0.68"/>
<path d="M561.46 328.4L567.85 284" stroke="#39783a" stroke-width="0.68"/>
<path d="M565.87 328.4L591.76 311.4" stroke="#39783a" stroke-width="0.68"/>
<path d="M553.63 328.4L517.4 312.67" stroke="#39783a" stroke-width="0.68"/>
<path d="M550.2 332.87L512.4 337.31" stroke="#39783a" stroke-width="0.68"/>
<path d="M557.07 334.8L522.77 362.7" stroke="#39783a" stroke-width="0.68"/>
<path d="M560.5 334.8L553.74 378.2" stroke="#39783a" stroke-width="0.68"/>
<path d="M563.71 334.8L586.11 361.2" stroke="#39783a" stroke-width="0.68"/>
<path d="M571.8 333.94L660.3 353.12" stroke="#e8a325" stroke-width="1.1"/>
<path d="M682.3 357.68L785.4 378.1" stroke="#e8a325" stroke-width="1.1"/>
<path d="M791.79 375.4L768.01 341.3" stroke="#39783a" stroke-width="0.45"/>
<path d="M795 380L829.46 344.3" stroke="#f4c585" stroke-width="0.55"/>
<path d="M786.23 384.6L756.87 400" stroke="#f4c585" stroke-width="0.55"/>
<path d="M804.6 382.18L838.2 389.8" stroke="#39783a" stroke-width="0.35"/>
<path d="M790.65 384.6L694.31 486.5" stroke="#39783a" stroke-width="1.3"/>
<path d="M687.85 493.5L603.68 587.1" stroke="#39783a" stroke-width="1.3"/>
<path d="M796.32 384.6L820.6 469.2" stroke="#39783a" stroke-width="1.3"/>
<path d="M822.39 476.2L838.98 549.6" stroke="#39783a" stroke-width="1.3"/>
<path d="M598.59 587.1L570.54 546.4" stroke="#39783a" stroke-width="0.68"/>
<path d="M601.35 587.1L608.97 542.9" stroke="#39783a" stroke-width="0.68"/>
<path d="M591.45 587.1L546.9 571.86" stroke="#39783a" stroke-width="0.68"/>
<path d="M610.63 587.1L640.5 577.38" stroke="#39783a" stroke-width="0.68"/>
<path d="M590 591.58L553.7 595.89" stroke="#f0b858" stroke-width="0.68"/>
<path d="M606.96 593.5L645.4 613.48" stroke="#39783a" stroke-width="0.68"/>
<path d="M596.34 593.5L543.77 631.2" stroke="#39783a" stroke-width="0.68"/>
<path d="M598.81 593.5L576.63 629.2" stroke="#39783a" stroke-width="0.68"/>
<path d="M602.43 593.5L626.74 641.1" stroke="#39783a" stroke-width="0.68"/>
<path d="M600.42 593.5L592.81 657.4" stroke="#39783a" stroke-width="0.68"/>
<path d="M842.83 549.6L863.74 528.2" stroke="#e8a325" stroke-width="1.1"/>
<path d="M850.5 555.13L876 560.63" stroke="#39783a" stroke-width="1.1"/>
<path d="M828.9 549.66L806 542.99" stroke="#c2255c" stroke-width="1.1"/>
<path d="M835.46 556L803.1 580.4" stroke="#39783a" stroke-width="1.1"/>
<path d="M839.35 556L834.5 600.7" stroke="#39783a" stroke-width="1.1"/>
<path d="M842.12 556L868.52 590.9" stroke="#c2255c" stroke-width="1.1"/>
<path d="M804.6 379.11L1017.4 359.39" stroke="#39783a" stroke-width="1.3"/>
<path d="M1022.46 353.9L986.22 317.2" stroke="#f0b858" stroke-width="0.8"/>
<path d="M1025.09 363.1L1004.3 413.2" stroke="#39783a" stroke-width="0.45"/>
<path d="M1029.82 363.1L1115.88 503.3" stroke="#c2255c" stroke-width="1.3"/>
<path d="M1209.01 185.8L1175.95 78.5" stroke="#39783a" stroke-width="0.68"/>
<path d="M1210.55 185.8L1229.67 74.2" stroke="#39783a" stroke-width="0.68"/>
<path d="M1212.16 185.8L1276.85 89.9" stroke="#c2255c" stroke-width="0.68"/>
<path d="M1206.87 185.8L1131.76 108.9" stroke="#39783a" stroke-width="0.68"/>
<path d="M1209.81 185.8L1205.66 117.4" stroke="#39783a" stroke-width="0.68"/>
<path d="M1212.1 185.8L1248.46 130.4" stroke="#39783a" stroke-width="0.68"/>
<path d="M1215.08 185.8L1304.28 129.6" stroke="#c2255c" stroke-width="0.68"/>
<path d="M1207.14 185.8L1165.77 139.6" stroke="#39783a" stroke-width="0.68"/>
<path d="M1199.75 185.8L1113.7 158.93" stroke="#39783a" stroke-width="0.68"/>
<path d="M1219 185.8L1269.9 167.71" stroke="#39783a" stroke-width="0.68"/>
<path d="M1220.8 187.63L1321.3 174.89" stroke="#39783a" stroke-width="0.68"/>
<path d="M1199.2 188.67L1154.9 187.33" stroke="#39783a" stroke-width="0.68"/>
<path d="M1199.2 191.76L1113.7 213.59" stroke="#f0b858" stroke-width="0.68"/>
<path d="M1220.8 191.94L1275.1 206.71" stroke="#39783a" stroke-width="0.68"/>
<path d="M1219.69 192.2L1318.3 224.77" stroke="#39783a" stroke-width="0.68"/>
<path d="M1212.46 192.2L1249.79 240.8" stroke="#39783a" stroke-width="0.68"/>
<path d="M1206.41 192.2L1148.83 243.5" stroke="#e8a325" stroke-width="0.68"/>
<path d="M1209.64 192.2L1203.07 251.1" stroke="#39783a" stroke-width="0.68"/>
<path d="M1213.33 192.2L1289.86 265.8" stroke="#39783a" stroke-width="0.68"/>
<path d="M1208.82 192.2L1173.54 287.8" stroke="#39783a" stroke-width="0.68"/>
<path d="M1210.92 192.2L1239.67 291.7" stroke="#39783a" stroke-width="0.68"/>
<path d="M1119.83 503.3L1129.2 465.2" stroke="#f4c585" stroke-width="0.55"/>
<path d="M1128.3 509.68L1193.6 521.82" stroke="#39783a" stroke-width="1.1"/>
<path d="M1118.84 512.5L1122 614.7" stroke="#39783a" stroke-width="1.3"/>
<path d="M1205.09 519L1218.01 487.5" stroke="#39783a" stroke-width="0.68"/>
<path d="M1212.8 521.12L1240.6 513.94" stroke="#39783a" stroke-width="0.68"/>
<path d="M1212.4 528.2L1240.6 542.3" stroke="#e8a325" stroke-width="0.68"/>
<path d="M1204.33 528.2L1213.07 563.6" stroke="#39783a" stroke-width="0.68"/>
<path d="M1117.1 614.7L1090.57 597.7" stroke="#c2255c" stroke-width="0.68"/>
<path d="M1125.23 614.7L1146.35 593.1" stroke="#39783a" stroke-width="0.68"/>
<path d="M1113.85 621.1L1084.4 632.53" stroke="#39783a" stroke-width="0.68"/>
<path d="M1132.9 620.42L1163 627.44" stroke="#39783a" stroke-width="0.68"/>
<path d="M1125.21 621.1L1159.16 656" stroke="#39783a" stroke-width="0.68"/>
<path d="M1120.05 621.1L1094.23 661.5" stroke="#39783a" stroke-width="0.68"/>
<path d="M1122.43 621.1L1127.18 667.5" stroke="#39783a" stroke-width="0.68"/>
</g>
<g><rect x="715.6" y="127.1" width="12.1" height="5.4" rx="0.5" fill="#45424d"/><rect x="722.4" y="128.3" width="1" height="1" fill="#ff9f0f"/><rect x="722.4" y="130.3" width="1" height="1" fill="#ff9f0f"/><rect x="724.2" y="128.3" width="1" height="1" fill="#ff9f0f"/><rect x="724.2" y="130.3" width="1" height="1" fill="#ff9f0f"/><rect x="726" y="128.3" width="1" height="1" fill="#ff9f0f"/><rect x="726" y="130.3" width="1" height="1" fill="#ff9f0f"/><rect x="717.2" y="128.5" width="1" height="1" fill="#3f6fd0"/><circle cx="711" cy="129.8" r="5" fill="#5cc030"/><path d="M708.8 130.2l1.5 1.5l3-4" fill="none" stroke="#fff" stroke-width="1.4" stroke-linecap="round" stroke-linejoin="round"/></g>
<g><rect x="701.9" y="50" width="13.6" height="7.9" fill="#ff9f0f" stroke="#45424d" stroke-width="0.8"/><rect x="701.5" y="49.5" width="14.4" height="0.5" fill="#45424d"/><path d="M708 58.2h1.4v1.6l1.8 1h-5l1.8-1z" fill="#55525c"/><rect x="701.8" y="60.7" width="13.8" height="0.75" fill="#6a6771"/><circle cx="699.1" cy="55.5" r="5" fill="#5cc030"/><path d="M696.9 55.9l1.5 1.5l3-4" fill="none" stroke="#fff" stroke-width="1.4" stroke-linecap="round" stroke-linejoin="round"/></g>
<g><rect x="739" y="61.9" width="13.6" height="7.9" fill="#ff9f0f" stroke="#45424d" stroke-width="0.8"/><rect x="738.6" y="61.4" width="14.4" height="0.5" fill="#45424d"/><path d="M745.1 70.1h1.4v1.6l1.8 1h-5l1.8-1z" fill="#55525c"/><rect x="738.9" y="72.6" width="13.8" height="0.75" fill="#6a6771"/><circle cx="736.2" cy="67.4" r="5" fill="#5cc030"/><path d="M734 67.8l1.5 1.5l3-4" fill="none" stroke="#fff" stroke-width="1.4" stroke-linecap="round" stroke-linejoin="round"/></g>
<g><rect x="651.7" y="82.4" width="13.6" height="7.9" fill="#ff9f0f" stroke="#45424d" stroke-width="0.8"/><rect x="651.3" y="81.9" width="14.4" height="0.5" fill="#45424d"/><path d="M657.8 90.6h1.4v1.6l1.8 1h-5l1.8-1z" fill="#55525c"/><rect x="651.6" y="93.1" width="13.8" height="0.75" fill="#6a6771"/><circle cx="648.9" cy="87.9" r="5" fill="#6e6e6e"/><text x="649" y="90.5" font-family="DejaVu Sans, sans-serif" font-size="7" font-weight="bold" fill="#fff" stroke="none" text-anchor="middle">?</text></g>
<g><rect x="689.1" y="80.7" width="13.6" height="7.9" fill="#ff9f0f" stroke="#45424d" stroke-width="0.8"/><rect x="688.7" y="80.2" width="14.4" height="0.5" fill="#45424d"/><path d="M695.2 88.9h1.4v1.6l1.8 1h-5l1.8-1z" fill="#55525c"/><rect x="689" y="91.4" width="13.8" height="0.75" fill="#6a6771"/><circle cx="686.3" cy="86.2" r="5" fill="#2d6ca2"/><text x="686.5" y="89.1" font-family="DejaVu Sans, sans-serif" font-weight="bold" font-size="7.5" fill="#fff" stroke="none" text-anchor="middle">i</text></g>
<g><rect x="767" y="90.4" width="13.6" height="7.9" fill="#ff9f0f" stroke="#45424d" stroke-width="0.8"/><rect x="766.6" y="89.9" width="14.4" height="0.5" fill="#45424d"/><path d="M773.1 98.6h1.4v1.6l1.8 1h-5l1.8-1z" fill="#55525c"/><rect x="766.9" y="101.1" width="13.8" height="0.75" fill="#6a6771"/><path d="M764.5 90.7l5.3 9.6h-10.6z" fill="#ffff00" stroke="#ffff00" stroke-width="0.8" stroke-linejoin="round"/><path d="M763.9 93v1.6m1.2-1.6v1.6M763.5 94.6h2v1.5l-0.6 0.6h-0.8l-0.6-0.6zM764.5 96.8v1.4" stroke="#111" stroke-width="0.6" fill="#111"/></g>
<g><rect x="650.7" y="121.3" width="13.6" height="7.9" fill="#ff9f0f" stroke="#45424d" stroke-width="0.8"/><rect x="650.3" y="120.8" width="14.4" height="0.5" fill="#45424d"/><path d="M656.8 129.5h1.4v1.6l1.8 1h-5l1.8-1z" fill="#55525c"/><rect x="650.6" y="132" width="13.8" height="0.75" fill="#6a6771"/><path d="M648.2 121.6l5.3 9.6h-10.6z" fill="#ffff00" stroke="#ffff00" stroke-width="0.8" stroke-linejoin="round"/><path d="M647.6 123.9v1.6m1.2-1.6v1.6M647.2 125.5h2v1.5l-0.6 0.6h-0.8l-0.6-0.6zM648.2 127.7v1.4" stroke="#111" stroke-width="0.6" fill="#111"/></g>
<g><rect x="772.7" y="124.6" width="13.6" height="7.9" fill="#ff9f0f" stroke="#45424d" stroke-width="0.8"/><rect x="772.3" y="124.1" width="14.4" height="0.5" fill="#45424d"/><path d="M778.8 132.8h1.4v1.6l1.8 1h-5l1.8-1z" fill="#55525c"/><rect x="772.6" y="135.3" width="13.8" height="0.75" fill="#6a6771"/><circle cx="769.9" cy="130.1" r="5" fill="#5cc030"/><path d="M767.7 130.5l1.5 1.5l3-4" fill="none" stroke="#fff" stroke-width="1.4" stroke-linecap="round" stroke-linejoin="round"/></g>
<g><rect x="664.9" y="156.8" width="13.6" height="7.9" fill="#ff9f0f" stroke="#45424d" stroke-width="0.8"/><rect x="664.5" y="156.3" width="14.4" height="0.5" fill="#45424d"/><path d="M671 165h1.4v1.6l1.8 1h-5l1.8-1z" fill="#55525c"/><rect x="664.8" y="167.5" width="13.8" height="0.75" fill="#6a6771"/><circle cx="662.1" cy="162.3" r="5" fill="#5cc030"/><path d="M659.9 162.7l1.5 1.5l3-4" fill="none" stroke="#fff" stroke-width="1.4" stroke-linecap="round" stroke-linejoin="round"/></g>
<g><rect x="703.3" y="177" width="13.6" height="7.9" fill="#ff9f0f" stroke="#45424d" stroke-width="0.8"/><rect x="702.9" y="176.5" width="14.4" height="0.5" fill="#45424d"/><path d="M709.4 185.2h1.4v1.6l1.8 1h-5l1.8-1z" fill="#55525c"/><rect x="703.2" y="187.7" width="13.8" height="0.75" fill="#6a6771"/><circle cx="700.5" cy="182.5" r="5" fill="#5cc030"/><path d="M698.3 182.9l1.5 1.5l3-4" fill="none" stroke="#fff" stroke-width="1.4" stroke-linecap="round" stroke-linejoin="round"/></g>
<g><path d="M756.7 161.3h5.8M757.3 162.3h4.6" stroke="#aaa" stroke-width="0.6"/><rect x="757.3" y="163.4" width="5.2" height="2" fill="#fff" stroke="#c4c4c4" stroke-width="0.5"/><rect x="756.8" y="170.5" width="6.6" height="2.6" fill="#fff" stroke="#c9c9c9" stroke-width="0.5"/><rect x="755.1" y="165.2" width="10.3" height="5.8" rx="0.7" fill="#45424d"/><rect x="755.3" y="170.9" width="1.2" height="1.4" fill="#45424d"/><rect x="763.4" y="170.9" width="1.4" height="1.6" fill="#45424d"/><rect x="755.7" y="166.3" width="1" height="0.9" fill="#ff9f0f"/><rect x="763.6" y="166.3" width="1" height="0.9" fill="#ff9f0f"/><circle cx="750.4" cy="167.7" r="5" fill="#5cc030"/><path d="M748.2 168.1l1.5 1.5l3-4" fill="none" stroke="#fff" stroke-width="1.4" stroke-linecap="round" stroke-linejoin="round"/></g>
<g><rect x="752.6" y="245.5" width="9.4" height="7" fill="#a9a7b3"/><rect x="752.6" y="245.5" width="4.4" height="2" fill="#3e3c49"/><rect x="757.45" y="245.5" width="4.55" height="2" fill="#3e3c49"/><rect x="752.6" y="248" width="2" height="2" fill="#3e3c49"/><rect x="755.05" y="248" width="4.4" height="2" fill="#3e3c49"/><rect x="759.9" y="248" width="2.1" height="2" fill="#3e3c49"/><rect x="752.6" y="250.5" width="4.4" height="2" fill="#3e3c49"/><rect x="757.45" y="250.5" width="4.2" height="2" fill="#3e3c49"/><path d="M762.8 245.5c0.7 1 2.8 2.9 2.6 5.2c-0.1 1-0.7 1.8-1 2c0.2-1.2-0.4-2.3-1.2-3c-0.1 1-1 1.8-1 3c-0.8-0.5-1.5-1.4-1.5-2.6c0-1.9 1.9-2.9 2.1-4.6z" fill="#ffa218"/><path d="M748.5 243.8l5.3 9.6h-10.6z" fill="#ffff00" stroke="#ffff00" stroke-width="0.8" stroke-linejoin="round"/><path d="M747.9 246.1v1.6m1.2-1.6v1.6M747.5 247.7h2v1.5l-0.6 0.6h-0.8l-0.6-0.6zM748.5 249.9v1.4" stroke="#111" stroke-width="0.6" fill="#111"/></g>
<g><rect x="559.6" y="328.9" width="12.1" height="5.4" rx="0.5" fill="#45424d"/><rect x="566.4" y="330.1" width="1" height="1" fill="#ff9f0f"/><rect x="566.4" y="332.1" width="1" height="1" fill="#ff9f0f"/><rect x="568.2" y="330.1" width="1" height="1" fill="#ff9f0f"/><rect x="568.2" y="332.1" width="1" height="1" fill="#ff9f0f"/><rect x="570" y="330.1" width="1" height="1" fill="#ff9f0f"/><rect x="570" y="332.1" width="1" height="1" fill="#ff9f0f"/><rect x="561.2" y="330.3" width="1" height="1" fill="#3f6fd0"/><circle cx="555" cy="331.6" r="5" fill="#5cc030"/><path d="M552.8 332l1.5 1.5l3-4" fill="none" stroke="#fff" stroke-width="1.4" stroke-linecap="round" stroke-linejoin="round"/></g>
<g><rect x="528.3" y="274.1" width="13.6" height="7.9" fill="#ff9f0f" stroke="#45424d" stroke-width="0.8"/><rect x="527.9" y="273.6" width="14.4" height="0.5" fill="#45424d"/><path d="M534.4 282.3h1.4v1.6l1.8 1h-5l1.8-1z" fill="#55525c"/><rect x="528.2" y="284.8" width="13.8" height="0.75" fill="#6a6771"/><circle cx="525.5" cy="279.6" r="5" fill="#5cc030"/><path d="M523.3 280l1.5 1.5l3-4" fill="none" stroke="#fff" stroke-width="1.4" stroke-linecap="round" stroke-linejoin="round"/></g>
<g><path d="M569.1 271h5.8M569.7 272h4.6" stroke="#aaa" stroke-width="0.6"/><rect x="569.7" y="273.1" width="5.2" height="2" fill="#fff" stroke="#c4c4c4" stroke-width="0.5"/><rect x="569.2" y="280.2" width="6.6" height="2.6" fill="#fff" stroke="#c9c9c9" stroke-width="0.5"/><rect x="567.5" y="274.9" width="10.3" height="5.8" rx="0.7" fill="#45424d"/><rect x="567.7" y="280.6" width="1.2" height="1.4" fill="#45424d"/><rect x="575.8" y="280.6" width="1.4" height="1.6" fill="#45424d"/><rect x="568.1" y="276" width="1" height="0.9" fill="#ff9f0f"/><rect x="576" y="276" width="1" height="0.9" fill="#ff9f0f"/><circle cx="562.8" cy="277.4" r="5" fill="#5cc030"/><path d="M560.6 277.8l1.5 1.5l3-4" fill="none" stroke="#fff" stroke-width="1.4" stroke-linecap="round" stroke-linejoin="round"/></g>
<g><rect x="597.7" y="299.9" width="13.6" height="7.9" fill="#ff9f0f" stroke="#45424d" stroke-width="0.8"/><rect x="597.3" y="299.4" width="14.4" height="0.5" fill="#45424d"/><path d="M603.8 308.1h1.4v1.6l1.8 1h-5l1.8-1z" fill="#55525c"/><rect x="597.6" y="310.6" width="13.8" height="0.75" fill="#6a6771"/><circle cx="594.9" cy="305.4" r="5" fill="#5cc030"/><path d="M592.7 305.8l1.5 1.5l3-4" fill="none" stroke="#fff" stroke-width="1.4" stroke-linecap="round" stroke-linejoin="round"/></g>
<g><rect x="503.2" y="302.4" width="13.6" height="7.9" fill="#ff9f0f" stroke="#45424d" stroke-width="0.8"/><rect x="502.8" y="301.9" width="14.4" height="0.5" fill="#45424d"/><path d="M509.3 310.6h1.4v1.6l1.8 1h-5l1.8-1z" fill="#55525c"/><rect x="503.1" y="313.1" width="13.8" height="0.75" fill="#6a6771"/><path d="M500.7 302.7l5.3 9.6h-10.6z" fill="#ffff00" stroke="#ffff00" stroke-width="0.8" stroke-linejoin="round"/><path d="M500.1 305v1.6m1.2-1.6v1.6M499.7 306.6h2v1.5l-0.6 0.6h-0.8l-0.6-0.6zM500.7 308.8v1.4" stroke="#111" stroke-width="0.6" fill="#111"/></g>
<g><rect x="498.2" y="333.1" width="13.6" height="7.9" fill="#ff9f0f" stroke="#45424d" stroke-width="0.8"/><rect x="497.8" y="332.6" width="14.4" height="0.5" fill="#45424d"/><path d="M504.3 341.3h1.4v1.6l1.8 1h-5l1.8-1z" fill="#55525c"/><rect x="498.1" y="343.8" width="13.8" height="0.75" fill="#6a6771"/><path d="M495.7 333.4l5.3 9.6h-10.6z" fill="#ff6a00" stroke="#ff6a00" stroke-width="0.8" stroke-linejoin="round"/><path d="M496.3 335.9l-1.6 2.6h1.4l-1 2.6l2.6-3.4h-1.4l1-1.8z" fill="#111"/></g>
<g><rect x="512.2" y="363.2" width="13.6" height="7.9" fill="#ff9f0f" stroke="#45424d" stroke-width="0.8"/><rect x="511.8" y="362.7" width="14.4" height="0.5" fill="#45424d"/><path d="M518.3 371.4h1.4v1.6l1.8 1h-5l1.8-1z" fill="#55525c"/><rect x="512.1" y="373.9" width="13.8" height="0.75" fill="#6a6771"/><circle cx="509.4" cy="368.7" r="5" fill="#5cc030"/><path d="M507.2 369.1l1.5 1.5l3-4" fill="none" stroke="#fff" stroke-width="1.4" stroke-linecap="round" stroke-linejoin="round"/></g>
<g><rect x="549.6" y="378.7" width="13.6" height="7.9" fill="#ff9f0f" stroke="#45424d" stroke-width="0.8"/><rect x="549.2" y="378.2" width="14.4" height="0.5" fill="#45424d"/><path d="M555.7 386.9h1.4v1.6l1.8 1h-5l1.8-1z" fill="#55525c"/><rect x="549.5" y="389.4" width="13.8" height="0.75" fill="#6a6771"/><circle cx="546.8" cy="384.2" r="5" fill="#5cc030"/><path d="M544.6 384.6l1.5 1.5l3-4" fill="none" stroke="#fff" stroke-width="1.4" stroke-linecap="round" stroke-linejoin="round"/></g>
<g><rect x="588" y="361.7" width="13.6" height="7.9" fill="#ff9f0f" stroke="#45424d" stroke-width="0.8"/><rect x="587.6" y="361.2" width="14.4" height="0.5" fill="#45424d"/><path d="M594.1 369.9h1.4v1.6l1.8 1h-5l1.8-1z" fill="#55525c"/><rect x="587.9" y="372.4" width="13.8" height="0.75" fill="#6a6771"/><circle cx="585.2" cy="367.2" r="5" fill="#2d6ca2"/><text x="585.4" y="370.1" font-family="DejaVu Sans, sans-serif" font-weight="bold" font-size="7.5" fill="#fff" stroke="none" text-anchor="middle">i</text></g>
<g><rect x="669.7" y="352" width="9.4" height="7" fill="#a9a7b3"/><rect x="669.7" y="352" width="4.4" height="2" fill="#3e3c49"/><rect x="674.55" y="352" width="4.55" height="2" fill="#3e3c49"/><rect x="669.7" y="354.5" width="2" height="2" fill="#3e3c49"/><rect x="672.15" y="354.5" width="4.4" height="2" fill="#3e3c49"/><rect x="677" y="354.5" width="2.1" height="2" fill="#3e3c49"/><rect x="669.7" y="357" width="4.4" height="2" fill="#3e3c49"/><rect x="674.55" y="357" width="4.2" height="2" fill="#3e3c49"/><path d="M679.9 352c0.7 1 2.8 2.9 2.6 5.2c-0.1 1-0.7 1.8-1 2c0.2-1.2-0.4-2.3-1.2-3c-0.1 1-1 1.8-1 3c-0.8-0.5-1.5-1.4-1.5-2.6c0-1.9 1.9-2.9 2.1-4.6z" fill="#ffa218"/><circle cx="665.3" cy="355.5" r="5" fill="#5cc030"/><path d="M663.1 355.9l1.5 1.5l3-4" fill="none" stroke="#fff" stroke-width="1.4" stroke-linecap="round" stroke-linejoin="round"/></g>
<g><rect x="792" y="381.3" width="13.8" height="4" rx="0.5" fill="#45424d"/><rect x="793.2" y="374" width="0.7" height="5.6" fill="#a3a1ab"/><rect x="793.15" y="379.4" width="0.8" height="2" fill="#5a5762"/><rect x="804" y="374" width="0.7" height="5.6" fill="#a3a1ab"/><rect x="803.95" y="379.4" width="0.8" height="2" fill="#5a5762"/><rect x="800.6" y="383.7" width="1.6" height="0.8" fill="#ff9f0f"/><rect x="803.2" y="383.7" width="1" height="0.8" fill="#ff9f0f"/><circle cx="789" cy="380" r="5" fill="#5cc030"/><path d="M786.8 380.4l1.5 1.5l3-4" fill="none" stroke="#fff" stroke-width="1.4" stroke-linecap="round" stroke-linejoin="round"/></g>
<g><rect x="762.2" y="333.6" width="11.4" height="5.6" fill="#ff9f0f" stroke="#45424d" stroke-width="0.8"/><rect x="761.8" y="333.2" width="12.2" height="0.5" fill="#45424d"/><rect x="760.6" y="339.6" width="16.4" height="0.8" fill="#b9b7c0"/><circle cx="758.8" cy="336.7" r="5" fill="#5cc030"/><path d="M756.6 337.1l1.5 1.5l3-4" fill="none" stroke="#fff" stroke-width="1.4" stroke-linecap="round" stroke-linejoin="round"/></g>
<g><rect x="831.3" y="336.6" width="11.4" height="5.6" fill="#ff9f0f" stroke="#45424d" stroke-width="0.8"/><rect x="830.9" y="336.2" width="12.2" height="0.5" fill="#45424d"/><rect x="829.7" y="342.6" width="16.4" height="0.8" fill="#b9b7c0"/><circle cx="827.9" cy="339.7" r="5" fill="#5cc030"/><path d="M825.7 340.1l1.5 1.5l3-4" fill="none" stroke="#fff" stroke-width="1.4" stroke-linecap="round" stroke-linejoin="round"/></g>
<g><rect x="745.5" y="401.5" width="11.4" height="5.6" fill="#ff9f0f" stroke="#45424d" stroke-width="0.8"/><rect x="745.1" y="401.1" width="12.2" height="0.5" fill="#45424d"/><rect x="743.9" y="407.5" width="16.4" height="0.8" fill="#b9b7c0"/><circle cx="742.1" cy="404.6" r="5" fill="#2d6ca2"/><text x="742.3" y="407.5" font-family="DejaVu Sans, sans-serif" font-weight="bold" font-size="7.5" fill="#fff" stroke="none" text-anchor="middle">i</text></g>
<g><rect x="849.9" y="386.3" width="6" height="12" rx="0.8" fill="#ff9f0f" stroke="#45424d" stroke-width="0.9"/><rect x="849.9" y="397.3" width="6" height="1.1" fill="#45424d"/><circle cx="843.2" cy="392.3" r="5" fill="#6e6e6e"/><text x="843.3" y="394.9" font-family="DejaVu Sans, sans-serif" font-size="7" font-weight="bold" fill="#fff" stroke="none" text-anchor="middle">?</text></g>
<g><rect x="689.4" y="486.5" width="9.4" height="7" fill="#a9a7b3"/><rect x="689.4" y="486.5" width="4.4" height="2" fill="#3e3c49"/><rect x="694.25" y="486.5" width="4.55" height="2" fill="#3e3c49"/><rect x="689.4" y="489" width="2" height="2" fill="#3e3c49"/><rect x="691.85" y="489" width="4.4" height="2" fill="#3e3c49"/><rect x="696.7" y="489" width="2.1" height="2" fill="#3e3c49"/><rect x="689.4" y="491.5" width="4.4" height="2" fill="#3e3c49"/><rect x="694.25" y="491.5" width="4.2" height="2" fill="#3e3c49"/><path d="M699.6 486.5c0.7 1 2.8 2.9 2.6 5.2c-0.1 1-0.7 1.8-1 2c0.2-1.2-0.4-2.3-1.2-3c-0.1 1-1 1.8-1 3c-0.8-0.5-1.5-1.4-1.5-2.6c0-1.9 1.9-2.9 2.1-4.6z" fill="#ffa218"/><circle cx="685" cy="490" r="5" fill="#2d6ca2"/><text x="685.2" y="492.9" font-family="DejaVu Sans, sans-serif" font-weight="bold" font-size="7.5" fill="#fff" stroke="none" text-anchor="middle">i</text></g>
<g><rect x="820" y="469.2" width="9.4" height="7" fill="#a9a7b3"/><rect x="820" y="469.2" width="4.4" height="2" fill="#3e3c49"/><rect x="824.85" y="469.2" width="4.55" height="2" fill="#3e3c49"/><rect x="820" y="471.7" width="2" height="2" fill="#3e3c49"/><rect x="822.45" y="471.7" width="4.4" height="2" fill="#3e3c49"/><rect x="827.3" y="471.7" width="2.1" height="2" fill="#3e3c49"/><rect x="820" y="474.2" width="4.4" height="2" fill="#3e3c49"/><rect x="824.85" y="474.2" width="4.2" height="2" fill="#3e3c49"/><path d="M830.2 469.2c0.7 1 2.8 2.9 2.6 5.2c-0.1 1-0.7 1.8-1 2c0.2-1.2-0.4-2.3-1.2-3c-0.1 1-1 1.8-1 3c-0.8-0.5-1.5-1.4-1.5-2.6c0-1.9 1.9-2.9 2.1-4.6z" fill="#ffa218"/><circle cx="815.6" cy="472.7" r="5" fill="#5cc030"/><path d="M813.4 473.1l1.5 1.5l3-4" fill="none" stroke="#fff" stroke-width="1.4" stroke-linecap="round" stroke-linejoin="round"/></g>
<g><rect x="599.4" y="587.6" width="12.1" height="5.4" rx="0.5" fill="#45424d"/><rect x="606.2" y="588.8" width="1" height="1" fill="#ff9f0f"/><rect x="606.2" y="590.8" width="1" height="1" fill="#ff9f0f"/><rect x="608" y="588.8" width="1" height="1" fill="#ff9f0f"/><rect x="608" y="590.8" width="1" height="1" fill="#ff9f0f"/><rect x="609.8" y="588.8" width="1" height="1" fill="#ff9f0f"/><rect x="609.8" y="590.8" width="1" height="1" fill="#ff9f0f"/><rect x="601" y="589" width="1" height="1" fill="#3f6fd0"/><circle cx="594.8" cy="590.3" r="5" fill="#5cc030"/><path d="M592.6 590.7l1.5 1.5l3-4" fill="none" stroke="#fff" stroke-width="1.4" stroke-linecap="round" stroke-linejoin="round"/></g>
<g><rect x="563.2" y="534.9" width="13.6" height="7.9" fill="#ff9f0f" stroke="#45424d" stroke-width="0.8"/><rect x="562.8" y="534.4" width="14.4" height="0.5" fill="#45424d"/><path d="M569.3 543.1h1.4v1.6l1.8 1h-5l1.8-1z" fill="#55525c"/><rect x="563.1" y="545.6" width="13.8" height="0.75" fill="#6a6771"/><circle cx="560.4" cy="540.4" r="5" fill="#2d6ca2"/><text x="560.6" y="543.3" font-family="DejaVu Sans, sans-serif" font-weight="bold" font-size="7.5" fill="#fff" stroke="none" text-anchor="middle">i</text></g>
<g><rect x="606.8" y="531.4" width="13.6" height="7.9" fill="#ff9f0f" stroke="#45424d" stroke-width="0.8"/><rect x="606.4" y="530.9" width="14.4" height="0.5" fill="#45424d"/><path d="M612.9 539.6h1.4v1.6l1.8 1h-5l1.8-1z" fill="#55525c"/><rect x="606.7" y="542.1" width="13.8" height="0.75" fill="#6a6771"/><circle cx="604" cy="536.9" r="5" fill="#5cc030"/><path d="M601.8 537.3l1.5 1.5l3-4" fill="none" stroke="#fff" stroke-width="1.4" stroke-linecap="round" stroke-linejoin="round"/></g>
<g><path d="M536.2 561.7h5.8M536.8 562.7h4.6" stroke="#aaa" stroke-width="0.6"/><rect x="536.8" y="563.8" width="5.2" height="2" fill="#fff" stroke="#c4c4c4" stroke-width="0.5"/><rect x="536.3" y="570.9" width="6.6" height="2.6" fill="#fff" stroke="#c9c9c9" stroke-width="0.5"/><rect x="534.6" y="565.6" width="10.3" height="5.8" rx="0.7" fill="#45424d"/><rect x="534.8" y="571.3" width="1.2" height="1.4" fill="#45424d"/><rect x="542.9" y="571.3" width="1.4" height="1.6" fill="#45424d"/><rect x="535.2" y="566.7" width="1" height="0.9" fill="#ff9f0f"/><rect x="543.1" y="566.7" width="1" height="0.9" fill="#ff9f0f"/><circle cx="529.9" cy="568.1" r="5" fill="#6e6e6e"/><text x="530" y="570.7" font-family="DejaVu Sans, sans-serif" font-size="7" font-weight="bold" fill="#fff" stroke="none" text-anchor="middle">?</text></g>
<g><rect x="648.3" y="568.3" width="13.6" height="7.9" fill="#ff9f0f" stroke="#45424d" stroke-width="0.8"/><rect x="647.9" y="567.8" width="14.4" height="0.5" fill="#45424d"/><path d="M654.4 576.5h1.4v1.6l1.8 1h-5l1.8-1z" fill="#55525c"/><rect x="648.2" y="579" width="13.8" height="0.75" fill="#6a6771"/><circle cx="645.5" cy="573.8" r="5" fill="#cc0a1e"/><path d="M643.5 571.8l4 4m0-4l-4 4" stroke="#fff" stroke-width="1.55" stroke-linecap="round"/></g>
<g><rect x="539.5" y="591.7" width="13.6" height="7.9" fill="#ff9f0f" stroke="#45424d" stroke-width="0.8"/><rect x="539.1" y="591.2" width="14.4" height="0.5" fill="#45424d"/><path d="M545.6 599.9h1.4v1.6l1.8 1h-5l1.8-1z" fill="#55525c"/><rect x="539.4" y="602.4" width="13.8" height="0.75" fill="#6a6771"/><circle cx="536.7" cy="597.2" r="5" fill="#5cc030"/><path d="M534.5 597.6l1.5 1.5l3-4" fill="none" stroke="#fff" stroke-width="1.4" stroke-linecap="round" stroke-linejoin="round"/></g>
<g><rect x="653.2" y="613.7" width="13.6" height="7.9" fill="#ff9f0f" stroke="#45424d" stroke-width="0.8"/><rect x="652.8" y="613.2" width="14.4" height="0.5" fill="#45424d"/><path d="M659.3 621.9h1.4v1.6l1.8 1h-5l1.8-1z" fill="#55525c"/><rect x="653.1" y="624.4" width="13.8" height="0.75" fill="#6a6771"/><circle cx="650.4" cy="619.2" r="5" fill="#5cc030"/><path d="M648.2 619.6l1.5 1.5l3-4" fill="none" stroke="#fff" stroke-width="1.4" stroke-linecap="round" stroke-linejoin="round"/></g>
<g><rect x="532.2" y="631.7" width="13.6" height="7.9" fill="#ff9f0f" stroke="#45424d" stroke-width="0.8"/><rect x="531.8" y="631.2" width="14.4" height="0.5" fill="#45424d"/><path d="M538.3 639.9h1.4v1.6l1.8 1h-5l1.8-1z" fill="#55525c"/><rect x="532.1" y="642.4" width="13.8" height="0.75" fill="#6a6771"/><path d="M529.7 632l5.3 9.6h-10.6z" fill="#ff6a00" stroke="#ff6a00" stroke-width="0.8" stroke-linejoin="round"/><path d="M530.3 634.5l-1.6 2.6h1.4l-1 2.6l2.6-3.4h-1.4l1-1.8z" fill="#111"/></g>
<g><rect x="569.7" y="629.7" width="13.6" height="7.9" fill="#ff9f0f" stroke="#45424d" stroke-width="0.8"/><rect x="569.3" y="629.2" width="14.4" height="0.5" fill="#45424d"/><path d="M575.8 637.9h1.4v1.6l1.8 1h-5l1.8-1z" fill="#55525c"/><rect x="569.6" y="640.4" width="13.8" height="0.75" fill="#6a6771"/><circle cx="566.9" cy="635.2" r="5" fill="#5cc030"/><path d="M564.7 635.6l1.5 1.5l3-4" fill="none" stroke="#fff" stroke-width="1.4" stroke-linecap="round" stroke-linejoin="round"/></g>
<g><rect x="626.6" y="641.6" width="13.6" height="7.9" fill="#ff9f0f" stroke="#45424d" stroke-width="0.8"/><rect x="626.2" y="641.1" width="14.4" height="0.5" fill="#45424d"/><path d="M632.7 649.8h1.4v1.6l1.8 1h-5l1.8-1z" fill="#55525c"/><rect x="626.5" y="652.3" width="13.8" height="0.75" fill="#6a6771"/><circle cx="623.8" cy="647.1" r="5" fill="#5cc030"/><path d="M621.6 647.5l1.5 1.5l3-4" fill="none" stroke="#fff" stroke-width="1.4" stroke-linecap="round" stroke-linejoin="round"/></g>
<g><rect x="588.9" y="657.9" width="13.6" height="7.9" fill="#ff9f0f" stroke="#45424d" stroke-width="0.8"/><rect x="588.5" y="657.4" width="14.4" height="0.5" fill="#45424d"/><path d="M595 666.1h1.4v1.6l1.8 1h-5l1.8-1z" fill="#55525c"/><rect x="588.8" y="668.6" width="13.8" height="0.75" fill="#6a6771"/><circle cx="586.1" cy="663.4" r="5" fill="#2d6ca2"/><text x="586.3" y="666.3" font-family="DejaVu Sans, sans-serif" font-weight="bold" font-size="7.5" fill="#fff" stroke="none" text-anchor="middle">i</text></g>
<g><rect x="838.3" y="550.1" width="12.1" height="5.4" rx="0.5" fill="#45424d"/><rect x="845.1" y="551.3" width="1" height="1" fill="#ff9f0f"/><rect x="845.1" y="553.3" width="1" height="1" fill="#ff9f0f"/><rect x="846.9" y="551.3" width="1" height="1" fill="#ff9f0f"/><rect x="846.9" y="553.3" width="1" height="1" fill="#ff9f0f"/><rect x="848.7" y="551.3" width="1" height="1" fill="#ff9f0f"/><rect x="848.7" y="553.3" width="1" height="1" fill="#ff9f0f"/><rect x="839.9" y="551.5" width="1" height="1" fill="#3f6fd0"/><circle cx="833.7" cy="552.8" r="5" fill="#5cc030"/><path d="M831.5 553.2l1.5 1.5l3-4" fill="none" stroke="#fff" stroke-width="1.4" stroke-linecap="round" stroke-linejoin="round"/></g>
<g><rect x="868.5" y="516" width="9.6" height="11.8" rx="0.4" fill="#45424d"/><rect x="874.8" y="517.8" width="2.6" height="0.6" fill="#ff9f0f"/><rect x="869.5" y="520.1" width="7.6" height="0.6" fill="#ff9f0f"/><rect x="869.5" y="522.3" width="7.6" height="0.6" fill="#ff9f0f"/><rect x="872.7" y="525.7" width="1.4" height="0.9" fill="#ff9f0f"/><path d="M864.1 516.8l5.3 9.6h-10.6z" fill="#ffff00" stroke="#ffff00" stroke-width="0.8" stroke-linejoin="round"/><path d="M863.5 519.1v1.6m1.2-1.6v1.6M863.1 520.7h2v1.5l-0.6 0.6h-0.8l-0.6-0.6zM864.1 522.9v1.4" stroke="#111" stroke-width="0.6" fill="#111"/></g>
<g><rect x="885.7" y="557" width="9.6" height="11.8" rx="0.4" fill="#45424d"/><rect x="892" y="558.8" width="2.6" height="0.6" fill="#ff9f0f"/><rect x="886.7" y="561.1" width="7.6" height="0.6" fill="#ff9f0f"/><rect x="886.7" y="563.3" width="7.6" height="0.6" fill="#ff9f0f"/><rect x="889.9" y="566.7" width="1.4" height="0.9" fill="#ff9f0f"/><circle cx="881" cy="563" r="5" fill="#5cc030"/><path d="M878.8 563.4l1.5 1.5l3-4" fill="none" stroke="#fff" stroke-width="1.4" stroke-linecap="round" stroke-linejoin="round"/></g>
<g><circle cx="803" cy="539" r="4.9" fill="#ffa726"/><g stroke="#fff" stroke-width="0.55" fill="none"><path d="M798.2 539h9.6M798.9 536.5h8.2M798.9 541.5h8.2M803 534.2v9.6"/><ellipse cx="803" cy="539" rx="2.5" ry="4.8"/></g><rect x="795.2" y="539.7" width="5.6" height="6.9" fill="#45424d"/><circle cx="791.8" cy="540.6" r="5" fill="#5cc030"/><path d="M789.6 541l1.5 1.5l3-4" fill="none" stroke="#fff" stroke-width="1.4" stroke-linecap="round" stroke-linejoin="round"/></g>
<g><circle cx="802.2" cy="583.4" r="4.9" fill="#ffa726"/><g stroke="#fff" stroke-width="0.55" fill="none"><path d="M797.4 583.4h9.6M798.1 580.9h8.2M798.1 585.9h8.2M802.2 578.6v9.6"/><ellipse cx="802.2" cy="583.4" rx="2.5" ry="4.8"/></g><rect x="794.4" y="584.1" width="5.6" height="6.9" fill="#45424d"/><circle cx="791" cy="585" r="5" fill="#cc0a1e"/><path d="M789 583l4 4m0-4l-4 4" stroke="#fff" stroke-width="1.55" stroke-linecap="round"/></g>
<g><circle cx="839.2" cy="603.7" r="4.9" fill="#ffa726"/><g stroke="#fff" stroke-width="0.55" fill="none"><path d="M834.4 603.7h9.6M835.1 601.2h8.2M835.1 606.2h8.2M839.2 598.9v9.6"/><ellipse cx="839.2" cy="603.7" rx="2.5" ry="4.8"/></g><rect x="831.4" y="604.4" width="5.6" height="6.9" fill="#45424d"/><path d="M828.3 600.1l5.3 9.6h-10.6z" fill="#ffff00" stroke="#ffff00" stroke-width="0.8" stroke-linejoin="round"/><path d="M827.7 602.4v1.6m1.2-1.6v1.6M827.3 604h2v1.5l-0.6 0.6h-0.8l-0.6-0.6zM828.3 606.2v1.4" stroke="#111" stroke-width="0.6" fill="#111"/></g>
<g><circle cx="877.2" cy="593.9" r="4.9" fill="#ffa726"/><g stroke="#fff" stroke-width="0.55" fill="none"><path d="M872.4 593.9h9.6M873.1 591.4h8.2M873.1 596.4h8.2M877.2 589.1v9.6"/><ellipse cx="877.2" cy="593.9" rx="2.5" ry="4.8"/></g><rect x="869.4" y="594.6" width="5.6" height="6.9" fill="#45424d"/><circle cx="866" cy="595.5" r="5" fill="#5cc030"/><path d="M863.8 595.9l1.5 1.5l3-4" fill="none" stroke="#fff" stroke-width="1.4" stroke-linecap="round" stroke-linejoin="round"/></g>
<g><rect x="1024" y="359.8" width="13.8" height="4" rx="0.5" fill="#45424d"/><rect x="1025.2" y="352.5" width="0.7" height="5.6" fill="#a3a1ab"/><rect x="1025.15" y="357.9" width="0.8" height="2" fill="#5a5762"/><rect x="1036" y="352.5" width="0.7" height="5.6" fill="#a3a1ab"/><rect x="1035.95" y="357.9" width="0.8" height="2" fill="#5a5762"/><rect x="1032.6" y="362.2" width="1.6" height="0.8" fill="#ff9f0f"/><rect x="1035.2" y="362.2" width="1" height="0.8" fill="#ff9f0f"/><circle cx="1021" cy="358.5" r="5" fill="#5cc030"/><path d="M1018.8 358.9l1.5 1.5l3-4" fill="none" stroke="#fff" stroke-width="1.4" stroke-linecap="round" stroke-linejoin="round"/></g>
<g><rect x="977.1" y="305.7" width="13.6" height="7.9" fill="#ff9f0f" stroke="#45424d" stroke-width="0.8"/><rect x="976.7" y="305.2" width="14.4" height="0.5" fill="#45424d"/><path d="M983.2 313.9h1.4v1.6l1.8 1h-5l1.8-1z" fill="#55525c"/><rect x="977" y="316.4" width="13.8" height="0.75" fill="#6a6771"/><circle cx="974.3" cy="311.2" r="5" fill="#5cc030"/><path d="M972.1 311.6l1.5 1.5l3-4" fill="none" stroke="#fff" stroke-width="1.4" stroke-linecap="round" stroke-linejoin="round"/></g>
<g><rect x="1002.3" y="413.7" width="6" height="12" rx="0.8" fill="#ff9f0f" stroke="#45424d" stroke-width="0.9"/><rect x="1002.3" y="424.7" width="6" height="1.1" fill="#45424d"/><circle cx="995.6" cy="419.7" r="5" fill="#5cc030"/><path d="M993.4 420.1l1.5 1.5l3-4" fill="none" stroke="#fff" stroke-width="1.4" stroke-linecap="round" stroke-linejoin="round"/></g>
<g><rect x="1208.6" y="186.3" width="12.1" height="5.4" rx="0.5" fill="#45424d"/><rect x="1215.4" y="187.5" width="1" height="1" fill="#ff9f0f"/><rect x="1215.4" y="189.5" width="1" height="1" fill="#ff9f0f"/><rect x="1217.2" y="187.5" width="1" height="1" fill="#ff9f0f"/><rect x="1217.2" y="189.5" width="1" height="1" fill="#ff9f0f"/><rect x="1219" y="187.5" width="1" height="1" fill="#ff9f0f"/><rect x="1219" y="189.5" width="1" height="1" fill="#ff9f0f"/><rect x="1210.2" y="187.7" width="1" height="1" fill="#3f6fd0"/><circle cx="1204" cy="189" r="5" fill="#5cc030"/><path d="M1201.8 189.4l1.5 1.5l3-4" fill="none" stroke="#fff" stroke-width="1.4" stroke-linecap="round" stroke-linejoin="round"/></g>
<g><rect x="1170.9" y="67" width="13.6" height="7.9" fill="#ff9f0f" stroke="#45424d" stroke-width="0.8"/><rect x="1170.5" y="66.5" width="14.4" height="0.5" fill="#45424d"/><path d="M1177 75.2h1.4v1.6l1.8 1h-5l1.8-1z" fill="#55525c"/><rect x="1170.8" y="77.7" width="13.8" height="0.75" fill="#6a6771"/><circle cx="1168.1" cy="72.5" r="5" fill="#5cc030"/><path d="M1165.9 72.9l1.5 1.5l3-4" fill="none" stroke="#fff" stroke-width="1.4" stroke-linecap="round" stroke-linejoin="round"/></g>
<g><rect x="1227.5" y="62.7" width="13.6" height="7.9" fill="#ff9f0f" stroke="#45424d" stroke-width="0.8"/><rect x="1227.1" y="62.2" width="14.4" height="0.5" fill="#45424d"/><path d="M1233.6 70.9h1.4v1.6l1.8 1h-5l1.8-1z" fill="#55525c"/><rect x="1227.4" y="73.4" width="13.8" height="0.75" fill="#6a6771"/><circle cx="1224.7" cy="68.2" r="5" fill="#5cc030"/><path d="M1222.5 68.6l1.5 1.5l3-4" fill="none" stroke="#fff" stroke-width="1.4" stroke-linecap="round" stroke-linejoin="round"/></g>
<g><rect x="1277.7" y="78.4" width="13.6" height="7.9" fill="#ff9f0f" stroke="#45424d" stroke-width="0.8"/><rect x="1277.3" y="77.9" width="14.4" height="0.5" fill="#45424d"/><path d="M1283.8 86.6h1.4v1.6l1.8 1h-5l1.8-1z" fill="#55525c"/><rect x="1277.6" y="89.1" width="13.8" height="0.75" fill="#6a6771"/><circle cx="1274.9" cy="83.9" r="5" fill="#5cc030"/><path d="M1272.7 84.3l1.5 1.5l3-4" fill="none" stroke="#fff" stroke-width="1.4" stroke-linecap="round" stroke-linejoin="round"/></g>
<g><rect x="1122.7" y="97.4" width="13.6" height="7.9" fill="#ff9f0f" stroke="#45424d" stroke-width="0.8"/><rect x="1122.3" y="96.9" width="14.4" height="0.5" fill="#45424d"/><path d="M1128.8 105.6h1.4v1.6l1.8 1h-5l1.8-1z" fill="#55525c"/><rect x="1122.6" y="108.1" width="13.8" height="0.75" fill="#6a6771"/><circle cx="1119.9" cy="102.9" r="5" fill="#5cc030"/><path d="M1117.7 103.3l1.5 1.5l3-4" fill="none" stroke="#fff" stroke-width="1.4" stroke-linecap="round" stroke-linejoin="round"/></g>
<g><rect x="1202.1" y="105.9" width="13.6" height="7.9" fill="#ff9f0f" stroke="#45424d" stroke-width="0.8"/><rect x="1201.7" y="105.4" width="14.4" height="0.5" fill="#45424d"/><path d="M1208.2 114.1h1.4v1.6l1.8 1h-5l1.8-1z" fill="#55525c"/><rect x="1202" y="116.6" width="13.8" height="0.75" fill="#6a6771"/><circle cx="1199.3" cy="111.4" r="5" fill="#5cc030"/><path d="M1197.1 111.8l1.5 1.5l3-4" fill="none" stroke="#fff" stroke-width="1.4" stroke-linecap="round" stroke-linejoin="round"/></g>
<g><rect x="1249.2" y="118.9" width="13.6" height="7.9" fill="#ff9f0f" stroke="#45424d" stroke-width="0.8"/><rect x="1248.8" y="118.4" width="14.4" height="0.5" fill="#45424d"/><path d="M1255.3 127.1h1.4v1.6l1.8 1h-5l1.8-1z" fill="#55525c"/><rect x="1249.1" y="129.6" width="13.8" height="0.75" fill="#6a6771"/><circle cx="1246.4" cy="124.4" r="5" fill="#5cc030"/><path d="M1244.2 124.8l1.5 1.5l3-4" fill="none" stroke="#fff" stroke-width="1.4" stroke-linecap="round" stroke-linejoin="round"/></g>
<g><rect x="1310.6" y="118.1" width="13.6" height="7.9" fill="#ff9f0f" stroke="#45424d" stroke-width="0.8"/><rect x="1310.2" y="117.6" width="14.4" height="0.5" fill="#45424d"/><path d="M1316.7 126.3h1.4v1.6l1.8 1h-5l1.8-1z" fill="#55525c"/><rect x="1310.5" y="128.8" width="13.8" height="0.75" fill="#6a6771"/><circle cx="1307.8" cy="123.6" r="5" fill="#5cc030"/><path d="M1305.6 124l1.5 1.5l3-4" fill="none" stroke="#fff" stroke-width="1.4" stroke-linecap="round" stroke-linejoin="round"/></g>
<g><rect x="1157.2" y="128.1" width="13.6" height="7.9" fill="#ff9f0f" stroke="#45424d" stroke-width="0.8"/><rect x="1156.8" y="127.6" width="14.4" height="0.5" fill="#45424d"/><path d="M1163.3 136.3h1.4v1.6l1.8 1h-5l1.8-1z" fill="#55525c"/><rect x="1157.1" y="138.8" width="13.8" height="0.75" fill="#6a6771"/><circle cx="1154.4" cy="133.6" r="5" fill="#5cc030"/><path d="M1152.2 134l1.5 1.5l3-4" fill="none" stroke="#fff" stroke-width="1.4" stroke-linecap="round" stroke-linejoin="round"/></g>
<g><rect x="1099.5" y="150" width="13.6" height="7.9" fill="#ff9f0f" stroke="#45424d" stroke-width="0.8"/><rect x="1099.1" y="149.5" width="14.4" height="0.5" fill="#45424d"/><path d="M1105.6 158.2h1.4v1.6l1.8 1h-5l1.8-1z" fill="#55525c"/><rect x="1099.4" y="160.7" width="13.8" height="0.75" fill="#6a6771"/><circle cx="1096.7" cy="155.5" r="5" fill="#5cc030"/><path d="M1094.5 155.9l1.5 1.5l3-4" fill="none" stroke="#fff" stroke-width="1.4" stroke-linecap="round" stroke-linejoin="round"/></g>
<g><rect x="1277.7" y="158.3" width="13.6" height="7.9" fill="#ff9f0f" stroke="#45424d" stroke-width="0.8"/><rect x="1277.3" y="157.8" width="14.4" height="0.5" fill="#45424d"/><path d="M1283.8 166.5h1.4v1.6l1.8 1h-5l1.8-1z" fill="#55525c"/><rect x="1277.6" y="169" width="13.8" height="0.75" fill="#6a6771"/><circle cx="1274.9" cy="163.8" r="5" fill="#6e6e6e"/><text x="1275" y="166.4" font-family="DejaVu Sans, sans-serif" font-size="7" font-weight="bold" fill="#fff" stroke="none" text-anchor="middle">?</text></g>
<g><rect x="1329.1" y="168" width="13.6" height="7.9" fill="#ff9f0f" stroke="#45424d" stroke-width="0.8"/><rect x="1328.7" y="167.5" width="14.4" height="0.5" fill="#45424d"/><path d="M1335.2 176.2h1.4v1.6l1.8 1h-5l1.8-1z" fill="#55525c"/><rect x="1329" y="178.7" width="13.8" height="0.75" fill="#6a6771"/><circle cx="1326.3" cy="173.5" r="5" fill="#2d6ca2"/><text x="1326.5" y="176.4" font-family="DejaVu Sans, sans-serif" font-weight="bold" font-size="7.5" fill="#fff" stroke="none" text-anchor="middle">i</text></g>
<g><rect x="1140.7" y="181.5" width="13.6" height="7.9" fill="#ff9f0f" stroke="#45424d" stroke-width="0.8"/><rect x="1140.3" y="181" width="14.4" height="0.5" fill="#45424d"/><path d="M1146.8 189.7h1.4v1.6l1.8 1h-5l1.8-1z" fill="#55525c"/><rect x="1140.6" y="192.2" width="13.8" height="0.75" fill="#6a6771"/><circle cx="1137.9" cy="187" r="5" fill="#5cc030"/><path d="M1135.7 187.4l1.5 1.5l3-4" fill="none" stroke="#fff" stroke-width="1.4" stroke-linecap="round" stroke-linejoin="round"/></g>
<g><rect x="1099.5" y="210.9" width="13.6" height="7.9" fill="#ff9f0f" stroke="#45424d" stroke-width="0.8"/><rect x="1099.1" y="210.4" width="14.4" height="0.5" fill="#45424d"/><path d="M1105.6 219.1h1.4v1.6l1.8 1h-5l1.8-1z" fill="#55525c"/><rect x="1099.4" y="221.6" width="13.8" height="0.75" fill="#6a6771"/><circle cx="1096.7" cy="216.4" r="5" fill="#6e6e6e"/><text x="1096.8" y="219" font-family="DejaVu Sans, sans-serif" font-size="7" font-weight="bold" fill="#fff" stroke="none" text-anchor="middle">?</text></g>
<g><rect x="1282.9" y="204.2" width="13.6" height="7.9" fill="#ff9f0f" stroke="#45424d" stroke-width="0.8"/><rect x="1282.5" y="203.7" width="14.4" height="0.5" fill="#45424d"/><path d="M1289 212.4h1.4v1.6l1.8 1h-5l1.8-1z" fill="#55525c"/><rect x="1282.8" y="214.9" width="13.8" height="0.75" fill="#6a6771"/><circle cx="1280.1" cy="209.7" r="5" fill="#5cc030"/><path d="M1277.9 210.1l1.5 1.5l3-4" fill="none" stroke="#fff" stroke-width="1.4" stroke-linecap="round" stroke-linejoin="round"/></g>
<g><path d="M1329.6 222h5.8M1330.2 223h4.6" stroke="#aaa" stroke-width="0.6"/><rect x="1330.2" y="224.1" width="5.2" height="2" fill="#fff" stroke="#c4c4c4" stroke-width="0.5"/><rect x="1329.7" y="231.2" width="6.6" height="2.6" fill="#fff" stroke="#c9c9c9" stroke-width="0.5"/><rect x="1328" y="225.9" width="10.3" height="5.8" rx="0.7" fill="#45424d"/><rect x="1328.2" y="231.6" width="1.2" height="1.4" fill="#45424d"/><rect x="1336.3" y="231.6" width="1.4" height="1.6" fill="#45424d"/><rect x="1328.6" y="227" width="1" height="0.9" fill="#ff9f0f"/><rect x="1336.5" y="227" width="1" height="0.9" fill="#ff9f0f"/><path d="M1323.6 223.2l5.3 9.6h-10.6z" fill="#ff6a00" stroke="#ff6a00" stroke-width="0.8" stroke-linejoin="round"/><path d="M1324.2 225.7l-1.6 2.6h1.4l-1 2.6l2.6-3.4h-1.4l1-1.8z" fill="#111"/></g>
<g><rect x="1251.2" y="241.3" width="13.6" height="7.9" fill="#ff9f0f" stroke="#45424d" stroke-width="0.8"/><rect x="1250.8" y="240.8" width="14.4" height="0.5" fill="#45424d"/><path d="M1257.3 249.5h1.4v1.6l1.8 1h-5l1.8-1z" fill="#55525c"/><rect x="1251.1" y="252" width="13.8" height="0.75" fill="#6a6771"/><path d="M1248.7 241.6l5.3 9.6h-10.6z" fill="#ff6a00" stroke="#ff6a00" stroke-width="0.8" stroke-linejoin="round"/><path d="M1249.3 244.1l-1.6 2.6h1.4l-1 2.6l2.6-3.4h-1.4l1-1.8z" fill="#111"/></g>
<g><rect x="1138.9" y="244" width="13.6" height="7.9" fill="#ff9f0f" stroke="#45424d" stroke-width="0.8"/><rect x="1138.5" y="243.5" width="14.4" height="0.5" fill="#45424d"/><path d="M1145 252.2h1.4v1.6l1.8 1h-5l1.8-1z" fill="#55525c"/><rect x="1138.8" y="254.7" width="13.8" height="0.75" fill="#6a6771"/><circle cx="1136.1" cy="249.5" r="5" fill="#cc0a1e"/><path d="M1134.1 247.5l4 4m0-4l-4 4" stroke="#fff" stroke-width="1.55" stroke-linecap="round"/></g>
<g><rect x="1199.2" y="251.6" width="13.6" height="7.9" fill="#ff9f0f" stroke="#45424d" stroke-width="0.8"/><rect x="1198.8" y="251.1" width="14.4" height="0.5" fill="#45424d"/><path d="M1205.3 259.8h1.4v1.6l1.8 1h-5l1.8-1z" fill="#55525c"/><rect x="1199.1" y="262.3" width="13.8" height="0.75" fill="#6a6771"/><circle cx="1196.4" cy="257.1" r="5" fill="#5cc030"/><path d="M1194.2 257.5l1.5 1.5l3-4" fill="none" stroke="#fff" stroke-width="1.4" stroke-linecap="round" stroke-linejoin="round"/></g>
<g><rect x="1292.9" y="266.3" width="13.6" height="7.9" fill="#ff9f0f" stroke="#45424d" stroke-width="0.8"/><rect x="1292.5" y="265.8" width="14.4" height="0.5" fill="#45424d"/><path d="M1299 274.5h1.4v1.6l1.8 1h-5l1.8-1z" fill="#55525c"/><rect x="1292.8" y="277" width="13.8" height="0.75" fill="#6a6771"/><circle cx="1290.1" cy="271.8" r="5" fill="#2d6ca2"/><text x="1290.3" y="274.7" font-family="DejaVu Sans, sans-serif" font-weight="bold" font-size="7.5" fill="#fff" stroke="none" text-anchor="middle">i</text></g>
<g><path d="M1171.4 288h5.8M1172 289h4.6" stroke="#aaa" stroke-width="0.6"/><rect x="1172" y="290.1" width="5.2" height="2" fill="#fff" stroke="#c4c4c4" stroke-width="0.5"/><rect x="1171.5" y="297.2" width="6.6" height="2.6" fill="#fff" stroke="#c9c9c9" stroke-width="0.5"/><rect x="1169.8" y="291.9" width="10.3" height="5.8" rx="0.7" fill="#45424d"/><rect x="1170" y="297.6" width="1.2" height="1.4" fill="#45424d"/><rect x="1178.1" y="297.6" width="1.4" height="1.6" fill="#45424d"/><rect x="1170.4" y="293" width="1" height="0.9" fill="#ff9f0f"/><rect x="1178.3" y="293" width="1" height="0.9" fill="#ff9f0f"/><circle cx="1165.1" cy="294.4" r="5" fill="#5cc030"/><path d="M1162.9 294.8l1.5 1.5l3-4" fill="none" stroke="#fff" stroke-width="1.4" stroke-linecap="round" stroke-linejoin="round"/></g>
<g><rect x="1238.2" y="292.2" width="13.6" height="7.9" fill="#ff9f0f" stroke="#45424d" stroke-width="0.8"/><rect x="1237.8" y="291.7" width="14.4" height="0.5" fill="#45424d"/><path d="M1244.3 300.4h1.4v1.6l1.8 1h-5l1.8-1z" fill="#55525c"/><rect x="1238.1" y="302.9" width="13.8" height="0.75" fill="#6a6771"/><path d="M1235.7 292.5l5.3 9.6h-10.6z" fill="#ffff00" stroke="#ffff00" stroke-width="0.8" stroke-linejoin="round"/><path d="M1235.1 294.8v1.6m1.2-1.6v1.6M1234.7 296.4h2v1.5l-0.6 0.6h-0.8l-0.6-0.6zM1235.7 298.6v1.4" stroke="#111" stroke-width="0.6" fill="#111"/></g>
<g><rect x="1115.7" y="509.2" width="13.8" height="4" rx="0.5" fill="#45424d"/><rect x="1116.9" y="501.9" width="0.7" height="5.6" fill="#a3a1ab"/><rect x="1116.85" y="507.3" width="0.8" height="2" fill="#5a5762"/><rect x="1127.7" y="501.9" width="0.7" height="5.6" fill="#a3a1ab"/><rect x="1127.65" y="507.3" width="0.8" height="2" fill="#5a5762"/><rect x="1124.3" y="511.6" width="1.6" height="0.8" fill="#ff9f0f"/><rect x="1126.9" y="511.6" width="1" height="0.8" fill="#ff9f0f"/><circle cx="1112.7" cy="507.9" r="5" fill="#5cc030"/><path d="M1110.5 508.3l1.5 1.5l3-4" fill="none" stroke="#fff" stroke-width="1.4" stroke-linecap="round" stroke-linejoin="round"/></g>
<g><rect x="1131.5" y="452.7" width="6" height="12" rx="0.8" fill="#ff9f0f" stroke="#45424d" stroke-width="0.9"/><rect x="1131.5" y="463.7" width="6" height="1.1" fill="#45424d"/><path d="M1125.1 453.5l5.3 9.6h-10.6z" fill="#ffff00" stroke="#ffff00" stroke-width="0.8" stroke-linejoin="round"/><path d="M1124.5 455.8v1.6m1.2-1.6v1.6M1124.1 457.4h2v1.5l-0.6 0.6h-0.8l-0.6-0.6zM1125.1 459.6v1.4" stroke="#111" stroke-width="0.6" fill="#111"/></g>
<g><rect x="1200.2" y="524.9" width="13.8" height="4" rx="0.5" fill="#45424d"/><rect x="1201.4" y="517.6" width="0.7" height="5.6" fill="#a3a1ab"/><rect x="1201.35" y="523" width="0.8" height="2" fill="#5a5762"/><rect x="1212.2" y="517.6" width="0.7" height="5.6" fill="#a3a1ab"/><rect x="1212.15" y="523" width="0.8" height="2" fill="#5a5762"/><rect x="1208.8" y="527.3" width="1.6" height="0.8" fill="#ff9f0f"/><rect x="1211.4" y="527.3" width="1" height="0.8" fill="#ff9f0f"/><circle cx="1197.2" cy="523.6" r="5" fill="#5cc030"/><path d="M1195 524l1.5 1.5l3-4" fill="none" stroke="#fff" stroke-width="1.4" stroke-linecap="round" stroke-linejoin="round"/></g>
<g><rect x="1217.3" y="479.8" width="11.4" height="5.6" fill="#ff9f0f" stroke="#45424d" stroke-width="0.8"/><rect x="1216.9" y="479.4" width="12.2" height="0.5" fill="#45424d"/><rect x="1215.7" y="485.8" width="16.4" height="0.8" fill="#b9b7c0"/><circle cx="1213.9" cy="482.9" r="5" fill="#5cc030"/><path d="M1211.7 483.3l1.5 1.5l3-4" fill="none" stroke="#fff" stroke-width="1.4" stroke-linecap="round" stroke-linejoin="round"/></g>
<g><rect x="1249" y="508" width="11.4" height="5.6" fill="#ff9f0f" stroke="#45424d" stroke-width="0.8"/><rect x="1248.6" y="507.6" width="12.2" height="0.5" fill="#45424d"/><rect x="1247.4" y="514" width="16.4" height="0.8" fill="#b9b7c0"/><circle cx="1245.6" cy="511.1" r="5" fill="#5cc030"/><path d="M1243.4 511.5l1.5 1.5l3-4" fill="none" stroke="#fff" stroke-width="1.4" stroke-linecap="round" stroke-linejoin="round"/></g>
<g><rect x="1248.4" y="542.3" width="13.6" height="7.9" fill="#ff9f0f" stroke="#45424d" stroke-width="0.8"/><rect x="1248" y="541.8" width="14.4" height="0.5" fill="#45424d"/><path d="M1254.5 550.5h1.4v1.6l1.8 1h-5l1.8-1z" fill="#55525c"/><rect x="1248.3" y="553" width="13.8" height="0.75" fill="#6a6771"/><circle cx="1245.6" cy="547.8" r="5" fill="#5cc030"/><path d="M1243.4 548.2l1.5 1.5l3-4" fill="none" stroke="#fff" stroke-width="1.4" stroke-linecap="round" stroke-linejoin="round"/></g>
<g><rect x="1211.6" y="565.1" width="11.4" height="5.6" fill="#ff9f0f" stroke="#45424d" stroke-width="0.8"/><rect x="1211.2" y="564.7" width="12.2" height="0.5" fill="#45424d"/><rect x="1210" y="571.1" width="16.4" height="0.8" fill="#b9b7c0"/><path d="M1208.5 563l5.3 9.6h-10.6z" fill="#ffff00" stroke="#ffff00" stroke-width="0.8" stroke-linejoin="round"/><path d="M1207.9 565.3v1.6m1.2-1.6v1.6M1207.5 566.9h2v1.5l-0.6 0.6h-0.8l-0.6-0.6zM1208.5 569.1v1.4" stroke="#111" stroke-width="0.6" fill="#111"/></g>
<g><rect x="1120.7" y="615.2" width="12.1" height="5.4" rx="0.5" fill="#45424d"/><rect x="1127.5" y="616.4" width="1" height="1" fill="#ff9f0f"/><rect x="1127.5" y="618.4" width="1" height="1" fill="#ff9f0f"/><rect x="1129.3" y="616.4" width="1" height="1" fill="#ff9f0f"/><rect x="1129.3" y="618.4" width="1" height="1" fill="#ff9f0f"/><rect x="1131.1" y="616.4" width="1" height="1" fill="#ff9f0f"/><rect x="1131.1" y="618.4" width="1" height="1" fill="#ff9f0f"/><rect x="1122.3" y="616.6" width="1" height="1" fill="#3f6fd0"/><circle cx="1116.1" cy="617.9" r="5" fill="#5cc030"/><path d="M1113.9 618.3l1.5 1.5l3-4" fill="none" stroke="#fff" stroke-width="1.4" stroke-linecap="round" stroke-linejoin="round"/></g>
<g><rect x="1078" y="586.2" width="13.6" height="7.9" fill="#ff9f0f" stroke="#45424d" stroke-width="0.8"/><rect x="1077.6" y="585.7" width="14.4" height="0.5" fill="#45424d"/><path d="M1084.1 594.4h1.4v1.6l1.8 1h-5l1.8-1z" fill="#55525c"/><rect x="1077.9" y="596.9" width="13.8" height="0.75" fill="#6a6771"/><circle cx="1075.2" cy="591.7" r="5" fill="#5cc030"/><path d="M1073 592.1l1.5 1.5l3-4" fill="none" stroke="#fff" stroke-width="1.4" stroke-linecap="round" stroke-linejoin="round"/></g>
<g><path d="M1153.1 580.1h5.8M1153.7 581.1h4.6" stroke="#aaa" stroke-width="0.6"/><rect x="1153.7" y="582.2" width="5.2" height="2" fill="#fff" stroke="#c4c4c4" stroke-width="0.5"/><rect x="1153.2" y="589.3" width="6.6" height="2.6" fill="#fff" stroke="#c9c9c9" stroke-width="0.5"/><rect x="1151.5" y="584" width="10.3" height="5.8" rx="0.7" fill="#45424d"/><rect x="1151.7" y="589.7" width="1.2" height="1.4" fill="#45424d"/><rect x="1159.8" y="589.7" width="1.4" height="1.6" fill="#45424d"/><rect x="1152.1" y="585.1" width="1" height="0.9" fill="#ff9f0f"/><rect x="1160" y="585.1" width="1" height="0.9" fill="#ff9f0f"/><circle cx="1146.8" cy="586.5" r="5" fill="#5cc030"/><path d="M1144.6 586.9l1.5 1.5l3-4" fill="none" stroke="#fff" stroke-width="1.4" stroke-linecap="round" stroke-linejoin="round"/></g>
<g><rect x="1070.2" y="631.3" width="13.6" height="7.9" fill="#ff9f0f" stroke="#45424d" stroke-width="0.8"/><rect x="1069.8" y="630.8" width="14.4" height="0.5" fill="#45424d"/><path d="M1076.3 639.5h1.4v1.6l1.8 1h-5l1.8-1z" fill="#55525c"/><rect x="1070.1" y="642" width="13.8" height="0.75" fill="#6a6771"/><circle cx="1067.4" cy="636.8" r="5" fill="#cc0a1e"/><path d="M1065.4 634.8l4 4m0-4l-4 4" stroke="#fff" stroke-width="1.55" stroke-linecap="round"/></g>
<g><rect x="1170.8" y="624.5" width="13.6" height="7.9" fill="#ff9f0f" stroke="#45424d" stroke-width="0.8"/><rect x="1170.4" y="624" width="14.4" height="0.5" fill="#45424d"/><path d="M1176.9 632.7h1.4v1.6l1.8 1h-5l1.8-1z" fill="#55525c"/><rect x="1170.7" y="635.2" width="13.8" height="0.75" fill="#6a6771"/><circle cx="1168" cy="630" r="5" fill="#5cc030"/><path d="M1165.8 630.4l1.5 1.5l3-4" fill="none" stroke="#fff" stroke-width="1.4" stroke-linecap="round" stroke-linejoin="round"/></g>
<g><rect x="1161.8" y="656.5" width="13.6" height="7.9" fill="#ff9f0f" stroke="#45424d" stroke-width="0.8"/><rect x="1161.4" y="656" width="14.4" height="0.5" fill="#45424d"/><path d="M1167.9 664.7h1.4v1.6l1.8 1h-5l1.8-1z" fill="#55525c"/><rect x="1161.7" y="667.2" width="13.8" height="0.75" fill="#6a6771"/><circle cx="1159" cy="662" r="5" fill="#6e6e6e"/><text x="1159.1" y="664.6" font-family="DejaVu Sans, sans-serif" font-size="7" font-weight="bold" fill="#fff" stroke="none" text-anchor="middle">?</text></g>
<g><rect x="1087.2" y="662" width="13.6" height="7.9" fill="#ff9f0f" stroke="#45424d" stroke-width="0.8"/><rect x="1086.8" y="661.5" width="14.4" height="0.5" fill="#45424d"/><path d="M1093.3 670.2h1.4v1.6l1.8 1h-5l1.8-1z" fill="#55525c"/><rect x="1087.1" y="672.7" width="13.8" height="0.75" fill="#6a6771"/><circle cx="1084.4" cy="667.5" r="5" fill="#5cc030"/><path d="M1082.2 667.9l1.5 1.5l3-4" fill="none" stroke="#fff" stroke-width="1.4" stroke-linecap="round" stroke-linejoin="round"/></g>
<g><rect x="1124.6" y="668" width="13.6" height="7.9" fill="#ff9f0f" stroke="#45424d" stroke-width="0.8"/><rect x="1124.2" y="667.5" width="14.4" height="0.5" fill="#45424d"/><path d="M1130.7 676.2h1.4v1.6l1.8 1h-5l1.8-1z" fill="#55525c"/><rect x="1124.5" y="678.7" width="13.8" height="0.75" fill="#6a6771"/><circle cx="1121.8" cy="673.5" r="5" fill="#5cc030"/><path d="M1119.6 673.9l1.5 1.5l3-4" fill="none" stroke="#fff" stroke-width="1.4" stroke-linecap="round" stroke-linejoin="round"/></g>
<g fill="none">
<path d="M1027 358.5L1206.55 192.2" stroke="#39783a" stroke-width="1.3"/>
</g>
<g fill="#2fc4dc" opacity="0.5"><circle cx="594.8" cy="590.3" r="5.1"/><rect x="599.4" y="587.6" width="12.1" height="5.4" rx="0.5"/></g>
</svg></div>
<svg class="a" style="left:1415px;top:44px" width="40" height="96" viewBox="1415 44 40 96" fill="none" stroke="#9a9a9a" stroke-width="0.9" stroke-linecap="round" stroke-linejoin="round"><circle cx="1433.7" cy="60.8" r="14" fill="#ececec" stroke="none"/><circle cx="1433.6" cy="87.4" r="8.7" fill="#ececec" stroke="none"/><circle cx="1433.6" cy="107.3" r="8.7" fill="#ececec" stroke="none"/><circle cx="1433.6" cy="127.5" r="8.7" fill="#ececec" stroke="none"/><path d="M1431 52.3l2.7-2.4l2.7 2.4M1431 69.3l2.7 2.4l2.7-2.4M1425.2 58.1l-2.4 2.7l2.4 2.7M1442.2 58.1l2.4 2.7l-2.4 2.7"/><rect x="1430" y="57" width="7.4" height="7.6" rx="2.4"/><circle cx="1433.7" cy="60.8" r="1.7"/><path d="M1429.4 87.4h8.4M1433.6 83.2v8.4" stroke="#a0a0a0" stroke-width="2" stroke-linecap="butt"/><path d="M1429.4 107.3h8.4" stroke="#a0a0a0" stroke-width="2" stroke-linecap="butt"/><path d="M1429.6 125.6v-1.9h2M1435.6 123.7h2v1.9M1437.6 129.4v1.9h-2M1431.6 131.3h-2v-1.9" stroke-width="1"/></svg>
<div class="split" style="left:354px;top:691px;width:1101px;height:6px"></div><div class="knob" style="left:902px;top:691.5px"></div>
<div class="tab d" style="left:356px;top:697px;width:62px;padding-left:4.6px">Device Table</div>
<div class="tab l" style="left:420px;top:697px;width:80px;padding-left:4.6px">Connection Table</div>
<div class="hd" style="left:354px;top:712px;width:1101px;height:17px"></div>
<div class="ln" style="left:354px;top:712px;width:1px;height:17px"></div>
<div class="t" style="left:356.6px;top:717px">From Host</div>
<div class="ln" style="left:556.6px;top:712px;width:1px;height:17px"></div>
<div class="t" style="left:559.2px;top:717px">To Host</div>
<div class="ln" style="left:759px;top:712px;width:1px;height:17px"></div>
<div class="t" style="left:761.6px;top:717px">Capacity, Mbps</div>
<div class="ln" style="left:881px;top:712px;width:1px;height:17px"></div>
<div class="t" style="left:883.6px;top:717px">Load</div>
<div class="ln" style="left:969px;top:712px;width:1px;height:17px"></div>
<div class="t" style="left:971.6px;top:717px">Load, %</div>
<div class="ln" style="left:1090.6px;top:712px;width:1px;height:17px"></div>
<div class="t" style="left:1093.1999999999998px;top:717px">ID</div>
<div class="ln" style="left:1212px;top:712px;width:1px;height:17px"></div>
<div class="t" style="left:1214.6px;top:717px">Encrypted</div>
<div class="ln" style="left:1333.8px;top:712px;width:1px;height:17px"></div>
<div class="t" style="left:1336.3999999999999px;top:717px">Wireless</div>
<div class="row g" style="top:730.5px;height:15.6px"></div>
<div class="ln" style="left:354px;top:746.1px;width:1087.5px;height:1px"></div>
<div class="t" style="left:356.6px;top:734px">routerA.company.com</div>
<div class="t" style="left:559.2px;top:734px">l2.company.com</div>
<div class="t" style="left:761.6px;top:734px">54</div>
<div class="t" style="left:971.6px;top:734px">44</div>
<div class="t" style="left:1093.1999999999998px;top:734px">76</div>
<div class="bar" style="left:883.6px;top:734.6px;width:81.4px;background:#d6aa06"></div>
<div class="ck" style="left:1270.3px;top:735.8px"></div>
<div class="ck on" style="left:1391.3px;top:735.8px"></div>
<div class="ln" style="left:354px;top:762.1px;width:1087.5px;height:1px"></div>
<div class="t" style="left:356.6px;top:750px">routerA.company.com</div>
<div class="t" style="left:559.2px;top:750px">l3.company.com</div>
<div class="t" style="left:761.6px;top:750px">54</div>
<div class="t" style="left:971.6px;top:750px">59</div>
<div class="t" style="left:1093.1999999999998px;top:750px">77</div>
<div class="bar" style="left:883.6px;top:750.6px;width:81.4px;background:#5bdc0c"></div>
<div class="ck" style="left:1270.3px;top:751.8px"></div>
<div class="ck on" style="left:1391.3px;top:751.8px"></div>
<div class="row g" style="top:762.5px;height:15.6px"></div>
<div class="ln" style="left:354px;top:778.1px;width:1087.5px;height:1px"></div>
<div class="t" style="left:356.6px;top:766px">routerB.company.com</div>
<div class="t" style="left:559.2px;top:766px">ph1.company.com</div>
<div class="t" style="left:761.6px;top:766px">54</div>
<div class="t" style="left:971.6px;top:766px">18</div>
<div class="t" style="left:1093.1999999999998px;top:766px">78</div>
<div class="bar" style="left:883.6px;top:766.6px;width:81.4px;background:#4f890c"></div>
<div class="ck" style="left:1270.3px;top:767.8px"></div>
<div class="ck on" style="left:1391.3px;top:767.8px"></div>
<div class="ln" style="left:354px;top:794.1px;width:1087.5px;height:1px"></div>
<div class="t" style="left:356.6px;top:782px">routerC.company.com</div>
<div class="t" style="left:559.2px;top:782px">ph2.company.com</div>
<div class="t" style="left:761.6px;top:782px">54</div>
<div class="t" style="left:971.6px;top:782px">75</div>
<div class="t" style="left:1093.1999999999998px;top:782px">79</div>
<div class="bar" style="left:883.6px;top:782.6px;width:81.4px;background:#04a3d0"></div>
<div class="ck on" style="left:1270.3px;top:783.8px"></div>
<div class="ck on" style="left:1391.3px;top:783.8px"></div>
<div class="row g" style="top:794.5px;height:15.6px"></div>
<div class="ln" style="left:354px;top:810.1px;width:1087.5px;height:1px"></div>
<div class="t" style="left:356.6px;top:798px">routerB.company.com</div>
<div class="t" style="left:559.2px;top:798px">s2.company.com</div>
<div class="t" style="left:761.6px;top:798px">100</div>
<div class="t" style="left:971.6px;top:798px">50</div>
<div class="t" style="left:1093.1999999999998px;top:798px">80</div>
<div class="bar" style="left:883.6px;top:798.6px;width:81.4px;background:#e99a02"></div>
<div class="ck on" style="left:1270.3px;top:799.8px"></div>
<div class="ck on" style="left:1391.3px;top:799.8px"></div>
<div class="ln" style="left:354px;top:826.1px;width:1087.5px;height:1px"></div>
<div class="t" style="left:356.6px;top:814px">routerC.company.com</div>
<div class="t" style="left:559.2px;top:814px">routerD.company.com</div>
<div class="t" style="left:761.6px;top:814px">1000</div>
<div class="t" style="left:971.6px;top:814px">35</div>
<div class="t" style="left:1093.1999999999998px;top:814px">81</div>
<div class="bar" style="left:883.6px;top:814.6px;width:81.4px;background:#b9b60c"></div>
<div class="ck" style="left:1270.3px;top:815.8px"></div>
<div class="ck" style="left:1391.3px;top:815.8px"></div>
<div class="row g" style="top:826.5px;height:15.6px"></div>
<div class="ln" style="left:354px;top:842.1px;width:1087.5px;height:1px"></div>
<div class="t" style="left:356.6px;top:830px">routerA.company.com</div>
<div class="t" style="left:559.2px;top:830px">ph3.company.com</div>
<div class="t" style="left:761.6px;top:830px">54</div>
<div class="t" style="left:971.6px;top:830px">8</div>
<div class="t" style="left:1093.1999999999998px;top:830px">82</div>
<div class="bar" style="left:883.6px;top:830.6px;width:81.4px;background:#276a0a"></div>
<div class="ck on" style="left:1270.3px;top:831.8px"></div>
<div class="ck on" style="left:1391.3px;top:831.8px"></div>
<div class="ln" style="left:354px;top:858.1px;width:1087.5px;height:1px"></div>
<div class="t" style="left:356.6px;top:846px">routerD.company.com</div>
<div class="t" style="left:559.2px;top:846px">s1.company.com</div>
<div class="t" style="left:761.6px;top:846px">100</div>
<div class="t" style="left:971.6px;top:846px">40</div>
<div class="t" style="left:1093.1999999999998px;top:846px">83</div>
<div class="bar" style="left:883.6px;top:846.6px;width:81.4px;background:#d0b208"></div>
<div class="ck on" style="left:1270.3px;top:847.8px"></div>
<div class="ck on" style="left:1391.3px;top:847.8px"></div>
<div class="row g" style="top:858.5px;height:15.6px"></div>
<div class="ln" style="left:354px;top:874.1px;width:1087.5px;height:1px"></div>
<div class="t" style="left:356.6px;top:862px">routerD.company.com</div>
<div class="t" style="left:559.2px;top:862px">l4.company.com</div>
<div class="t" style="left:761.6px;top:862px">68</div>
<div class="t" style="left:971.6px;top:862px">12</div>
<div class="t" style="left:1093.1999999999998px;top:862px">84</div>
<div class="bar" style="left:883.6px;top:862.6px;width:81.4px;background:#38780c"></div>
<div class="ck" style="left:1270.3px;top:863.8px"></div>
<div class="ck" style="left:1391.3px;top:863.8px"></div>
<div class="ln" style="left:354px;top:890.1px;width:1087.5px;height:1px"></div>
<div class="t" style="left:356.6px;top:878px">routerD.company.com</div>
<div class="t" style="left:559.2px;top:878px">l5.company.com</div>
<div class="t" style="left:761.6px;top:878px">68</div>
<div class="t" style="left:971.6px;top:878px">15</div>
<div class="t" style="left:1093.1999999999998px;top:878px">85</div>
<div class="bar" style="left:883.6px;top:878.6px;width:81.4px;background:#44820e"></div>
<div class="ck" style="left:1270.3px;top:879.8px"></div>
<div class="ck on" style="left:1391.3px;top:879.8px"></div>
<div class="row g" style="top:890.5px;height:15.6px"></div>
<div class="ln" style="left:354px;top:906.1px;width:1087.5px;height:1px"></div>
<div class="t" style="left:356.6px;top:894px">routerD.company.com</div>
<div class="t" style="left:559.2px;top:894px">l6.company.com</div>
<div class="t" style="left:761.6px;top:894px">68</div>
<div class="t" style="left:971.6px;top:894px">17</div>
<div class="t" style="left:1093.1999999999998px;top:894px">86</div>
<div class="bar" style="left:883.6px;top:894.6px;width:81.4px;background:#4c880f"></div>
<div class="ck on" style="left:1270.3px;top:895.8px"></div>
<div class="ck" style="left:1391.3px;top:895.8px"></div>
<div class="ln" style="left:354px;top:730.5px;width:1px;height:176px"></div>
<div class="ln" style="left:556.6px;top:730.5px;width:1px;height:176px"></div>
<div class="ln" style="left:759px;top:730.5px;width:1px;height:176px"></div>
<div class="ln" style="left:881px;top:730.5px;width:1px;height:176px"></div>
<div class="ln" style="left:969px;top:730.5px;width:1px;height:176px"></div>
<div class="ln" style="left:1090.6px;top:730.5px;width:1px;height:176px"></div>
<div class="ln" style="left:1212px;top:730.5px;width:1px;height:176px"></div>
<div class="ln" style="left:1333.8px;top:730.5px;width:1px;height:176px"></div>
<div class="a" style="left:1441.5px;top:729px;width:13.5px;height:177px;background:#f6f6f6"></div>
<div class="a" style="left:1445.5px;top:815px;width:7px;height:100px;border-radius:4px;background:#c1c1c1"></div>
</div></body></html>
